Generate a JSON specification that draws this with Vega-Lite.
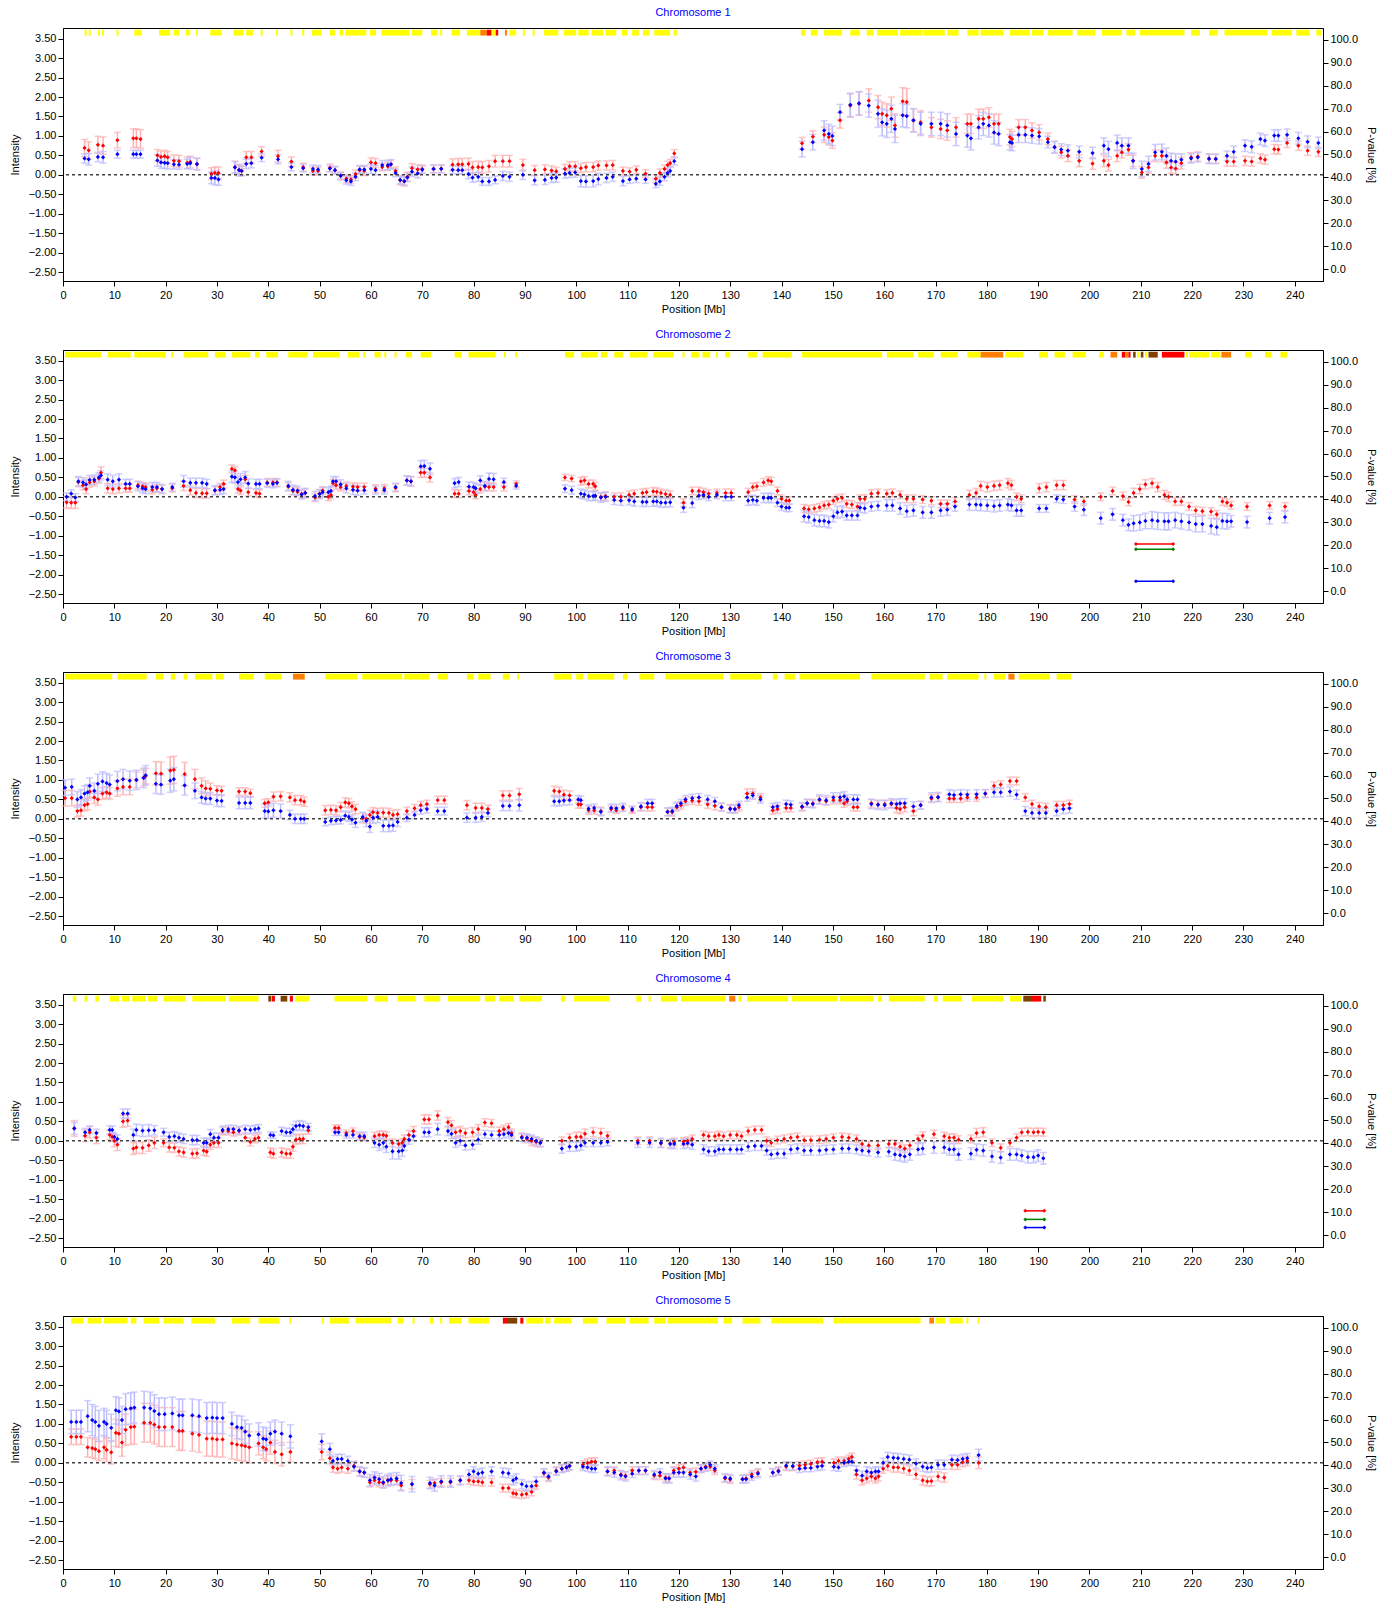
{
"$schema": "https://vega.github.io/schema/vega-lite/v6.json",
"padding": {"left": 8, "top": 6, "right": 0, "bottom": 0},
"spacing": 13,
"datasets": {
"pts": [
{"c":1,"x":4.2,"r":0.69,"b":0.42,"er":0.22,"eb":0.12},{"c":1,"x":5.0,"r":0.63,"b":0.40,"er":0.22,"eb":0.15},{"c":1,"x":6.8,"r":0.77,"b":0.46,"er":0.22,"eb":0.12},{"c":1,"x":7.8,"r":0.75,"b":0.45,"er":0.22,"eb":0.15},{"c":1,"x":10.6,"r":0.89,"b":0.53,"er":0.2,"eb":0.1},{"c":1,"x":13.7,"r":0.94,"b":0.53,"er":0.24,"eb":0.1},{"c":1,"x":14.3,"r":0.94,"b":0.53,"er":0.24,"eb":0.1},{"c":1,"x":15.1,"r":0.92,"b":0.53,"er":0.24,"eb":0.1},{"c":1,"x":18.4,"r":0.50,"b":0.37,"er":0.15,"eb":0.15},{"c":1,"x":19.1,"r":0.46,"b":0.32,"er":0.15,"eb":0.15},{"c":1,"x":19.8,"r":0.48,"b":0.31,"er":0.15,"eb":0.15},{"c":1,"x":20.4,"r":0.45,"b":0.30,"er":0.15,"eb":0.15},{"c":1,"x":21.6,"r":0.36,"b":0.27,"er":0.15,"eb":0.12},{"c":1,"x":22.6,"r":0.35,"b":0.26,"er":0.15,"eb":0.12},{"c":1,"x":24.2,"r":0.31,"b":0.28,"er":0.15,"eb":0.12},{"c":1,"x":24.8,"r":0.33,"b":0.30,"er":0.15,"eb":0.15},{"c":1,"x":26.1,"r":0.27,"b":0.28,"er":0.15,"eb":0.15},{"c":1,"x":28.9,"r":0.03,"b":-0.08,"er":0.15,"eb":0.15},{"c":1,"x":29.6,"r":0.05,"b":-0.08,"er":0.15,"eb":0.18},{"c":1,"x":30.3,"r":0.05,"b":-0.12,"er":0.15,"eb":0.15},{"c":1,"x":33.5,"r":0.20,"b":0.19,"er":0.15,"eb":0.15},{"c":1,"x":34.3,"r":0.13,"b":0.12,"er":0.12,"eb":0.15},{"c":1,"x":34.8,"r":0.10,"b":0.10,"er":0.12,"eb":0.12},{"c":1,"x":35.7,"r":0.45,"b":0.28,"er":0.15,"eb":0.12},{"c":1,"x":36.7,"r":0.45,"b":0.30,"er":0.15,"eb":0.12},{"c":1,"x":38.7,"r":0.60,"b":0.44,"er":0.12,"eb":0.1},{"c":1,"x":41.9,"r":0.48,"b":0.40,"er":0.15,"eb":0.12},{"c":1,"x":44.5,"r":0.34,"b":0.20,"er":0.12,"eb":0.1},{"c":1,"x":46.8,"r":0.20,"b":0.17,"er":0.1,"eb":0.1},{"c":1,"x":48.7,"r":0.10,"b":0.15,"er":0.1,"eb":0.1},{"c":1,"x":49.7,"r":0.10,"b":0.14,"er":0.1,"eb":0.1},{"c":1,"x":52.0,"r":0.18,"b":0.16,"er":0.1,"eb":0.08},{"c":1,"x":53.0,"r":0.12,"b":0.12,"er":0.1,"eb":0.08},{"c":1,"x":54.1,"r":-0.03,"b":-0.02,"er":0.1,"eb":0.08},{"c":1,"x":55.2,"r":-0.10,"b":-0.14,"er":0.1,"eb":0.1},{"c":1,"x":56.1,"r":-0.12,"b":-0.17,"er":0.1,"eb":0.1},{"c":1,"x":57.0,"r":0.02,"b":-0.05,"er":0.1,"eb":0.1},{"c":1,"x":57.8,"r":0.12,"b":0.14,"er":0.1,"eb":0.1},{"c":1,"x":58.7,"r":0.10,"b":0.14,"er":0.12,"eb":0.1},{"c":1,"x":60.0,"r":0.32,"b":0.15,"er":0.12,"eb":0.12},{"c":1,"x":60.9,"r":0.30,"b":0.12,"er":0.12,"eb":0.12},{"c":1,"x":62.2,"r":0.20,"b":0.25,"er":0.1,"eb":0.12},{"c":1,"x":63.3,"r":0.22,"b":0.25,"er":0.1,"eb":0.12},{"c":1,"x":63.9,"r":0.27,"b":0.27,"er":0.1,"eb":0.12},{"c":1,"x":64.8,"r":0.10,"b":0.05,"er":0.1,"eb":0.1},{"c":1,"x":65.7,"r":-0.14,"b":-0.13,"er":0.12,"eb":0.1},{"c":1,"x":66.5,"r":-0.17,"b":-0.16,"er":0.12,"eb":0.1},{"c":1,"x":67.1,"r":-0.05,"b":-0.07,"er":0.12,"eb":0.1},{"c":1,"x":68.0,"r":0.17,"b":0.08,"er":0.12,"eb":0.12},{"c":1,"x":69.1,"r":0.14,"b":0.04,"er":0.12,"eb":0.12},{"c":1,"x":70.0,"r":0.15,"b":0.13,"er":0.1,"eb":0.1},{"c":1,"x":72.2,"r":0.15,"b":0.15,"er":0.1,"eb":0.1},{"c":1,"x":73.7,"r":0.16,"b":0.15,"er":0.1,"eb":0.1},{"c":1,"x":75.9,"r":0.26,"b":0.13,"er":0.15,"eb":0.1},{"c":1,"x":77.0,"r":0.27,"b":0.12,"er":0.15,"eb":0.1},{"c":1,"x":77.8,"r":0.27,"b":0.12,"er":0.15,"eb":0.1},{"c":1,"x":79.0,"r":0.28,"b":0.02,"er":0.15,"eb":0.12},{"c":1,"x":79.8,"r":0.19,"b":-0.07,"er":0.15,"eb":0.12},{"c":1,"x":80.9,"r":0.20,"b":-0.05,"er":0.15,"eb":0.12},{"c":1,"x":81.7,"r":0.19,"b":-0.17,"er":0.15,"eb":0.1},{"c":1,"x":83.0,"r":0.22,"b":-0.17,"er":0.15,"eb":0.1},{"c":1,"x":84.2,"r":0.35,"b":-0.13,"er":0.15,"eb":0.1},{"c":1,"x":85.7,"r":0.35,"b":-0.03,"er":0.15,"eb":0.12},{"c":1,"x":87.0,"r":0.35,"b":-0.05,"er":0.15,"eb":0.12},{"c":1,"x":89.6,"r":0.25,"b":0.0,"er":0.15,"eb":0.12},{"c":1,"x":91.9,"r":0.12,"b":-0.14,"er":0.12,"eb":0.12},{"c":1,"x":93.9,"r":0.14,"b":-0.13,"er":0.12,"eb":0.12},{"c":1,"x":95.2,"r":0.11,"b":-0.08,"er":0.12,"eb":0.12},{"c":1,"x":96.1,"r":0.09,"b":-0.07,"er":0.1,"eb":0.12},{"c":1,"x":97.8,"r":0.15,"b":0.03,"er":0.12,"eb":0.12},{"c":1,"x":98.7,"r":0.22,"b":0.05,"er":0.12,"eb":0.12},{"c":1,"x":99.8,"r":0.22,"b":0.06,"er":0.12,"eb":0.12},{"c":1,"x":100.9,"r":0.17,"b":-0.16,"er":0.12,"eb":0.15},{"c":1,"x":101.9,"r":0.20,"b":-0.17,"er":0.12,"eb":0.15},{"c":1,"x":103.3,"r":0.20,"b":-0.16,"er":0.12,"eb":0.15},{"c":1,"x":104.3,"r":0.24,"b":-0.11,"er":0.12,"eb":0.15},{"c":1,"x":105.9,"r":0.24,"b":-0.08,"er":0.12,"eb":0.12},{"c":1,"x":107.1,"r":0.25,"b":-0.05,"er":0.12,"eb":0.12},{"c":1,"x":109.1,"r":0.10,"b":-0.16,"er":0.1,"eb":0.12},{"c":1,"x":110.4,"r":0.08,"b":-0.12,"er":0.1,"eb":0.1},{"c":1,"x":111.7,"r":0.13,"b":-0.10,"er":0.1,"eb":0.1},{"c":1,"x":113.5,"r":0.03,"b":-0.12,"er":0.1,"eb":0.1},{"c":1,"x":115.5,"r":-0.10,"b":-0.23,"er":0.1,"eb":0.1},{"c":1,"x":116.3,"r":0.05,"b":-0.17,"er":0.1,"eb":0.1},{"c":1,"x":117.2,"r":0.15,"b":-0.05,"er":0.1,"eb":0.1},{"c":1,"x":117.8,"r":0.25,"b":0.05,"er":0.1,"eb":0.1},{"c":1,"x":118.3,"r":0.30,"b":0.10,"er":0.1,"eb":0.1},{"c":1,"x":119.1,"r":0.55,"b":0.35,"er":0.1,"eb":0.1},
{"c":1,"x":144.0,"r":0.81,"b":0.66,"er":0.15,"eb":0.2},{"c":1,"x":146.1,"r":0.98,"b":0.84,"er":0.15,"eb":0.2},{"c":1,"x":148.3,"r":1.03,"b":1.14,"er":0.2,"eb":0.25},{"c":1,"x":149.2,"r":0.97,"b":1.05,"er":0.2,"eb":0.25},{"c":1,"x":149.9,"r":0.88,"b":1.00,"er":0.2,"eb":0.25},{"c":1,"x":151.4,"r":1.40,"b":1.61,"er":0.2,"eb":0.2},{"c":1,"x":153.4,"r":1.78,"b":1.80,"er":0.3,"eb":0.3},{"c":1,"x":155.1,"r":1.83,"b":1.84,"er":0.3,"eb":0.3},{"c":1,"x":157.0,"r":1.91,"b":1.78,"er":0.3,"eb":0.3},{"c":1,"x":158.8,"r":1.74,"b":1.57,"er":0.3,"eb":0.35},{"c":1,"x":159.6,"r":1.57,"b":1.35,"er":0.3,"eb":0.35},{"c":1,"x":160.5,"r":1.53,"b":1.31,"er":0.3,"eb":0.35},{"c":1,"x":161.4,"r":1.70,"b":1.44,"er":0.3,"eb":0.35},{"c":1,"x":162.1,"r":1.27,"b":1.18,"er":0.3,"eb":0.35},{"c":1,"x":163.6,"r":1.89,"b":1.53,"er":0.35,"eb":0.3},{"c":1,"x":164.4,"r":1.87,"b":1.51,"er":0.35,"eb":0.3},{"c":1,"x":165.7,"r":1.40,"b":1.40,"er":0.3,"eb":0.3},{"c":1,"x":167.1,"r":1.35,"b":1.31,"er":0.3,"eb":0.3},{"c":1,"x":169.2,"r":1.22,"b":1.31,"er":0.25,"eb":0.3},{"c":1,"x":171.0,"r":1.18,"b":1.31,"er":0.25,"eb":0.3},{"c":1,"x":172.3,"r":1.14,"b":1.27,"er":0.25,"eb":0.3},{"c":1,"x":174.0,"r":1.22,"b":1.05,"er":0.25,"eb":0.3},{"c":1,"x":176.2,"r":1.31,"b":1.01,"er":0.25,"eb":0.3},{"c":1,"x":176.9,"r":1.31,"b":0.94,"er":0.25,"eb":0.3},{"c":1,"x":178.4,"r":1.44,"b":1.22,"er":0.25,"eb":0.3},{"c":1,"x":179.3,"r":1.44,"b":1.31,"er":0.25,"eb":0.3},{"c":1,"x":180.4,"r":1.48,"b":1.27,"er":0.25,"eb":0.3},{"c":1,"x":181.4,"r":1.31,"b":1.09,"er":0.25,"eb":0.3},{"c":1,"x":182.3,"r":1.31,"b":1.05,"er":0.25,"eb":0.3},{"c":1,"x":184.5,"r":0.97,"b":0.84,"er":0.2,"eb":0.2},{"c":1,"x":184.9,"r":0.92,"b":0.82,"er":0.2,"eb":0.2},{"c":1,"x":186.2,"r":1.22,"b":1.03,"er":0.2,"eb":0.2},{"c":1,"x":187.5,"r":1.22,"b":1.03,"er":0.2,"eb":0.2},{"c":1,"x":188.8,"r":1.14,"b":1.01,"er":0.2,"eb":0.2},{"c":1,"x":190.2,"r":1.09,"b":0.99,"er":0.2,"eb":0.2},{"c":1,"x":191.9,"r":0.92,"b":0.84,"er":0.15,"eb":0.15},{"c":1,"x":193.2,"r":0.71,"b":0.71,"er":0.15,"eb":0.15},{"c":1,"x":194.5,"r":0.58,"b":0.65,"er":0.15,"eb":0.15},{"c":1,"x":195.8,"r":0.49,"b":0.62,"er":0.15,"eb":0.15},{"c":1,"x":198.0,"r":0.36,"b":0.59,"er":0.15,"eb":0.15},{"c":1,"x":200.6,"r":0.29,"b":0.56,"er":0.15,"eb":0.15},{"c":1,"x":202.8,"r":0.36,"b":0.75,"er":0.15,"eb":0.2},{"c":1,"x":203.7,"r":0.25,"b":0.66,"er":0.15,"eb":0.2},{"c":1,"x":205.4,"r":0.49,"b":0.82,"er":0.15,"eb":0.2},{"c":1,"x":206.3,"r":0.58,"b":0.75,"er":0.15,"eb":0.2},{"c":1,"x":207.6,"r":0.65,"b":0.75,"er":0.15,"eb":0.2},{"c":1,"x":208.5,"r":0.36,"b":0.36,"er":0.15,"eb":0.2},{"c":1,"x":210.2,"r":0.06,"b":0.15,"er":0.15,"eb":0.2},{"c":1,"x":211.5,"r":0.19,"b":0.28,"er":0.15,"eb":0.2},{"c":1,"x":212.8,"r":0.49,"b":0.58,"er":0.15,"eb":0.2},{"c":1,"x":214.1,"r":0.49,"b":0.59,"er":0.15,"eb":0.2},{"c":1,"x":215.0,"r":0.32,"b":0.49,"er":0.15,"eb":0.2},{"c":1,"x":215.9,"r":0.19,"b":0.36,"er":0.15,"eb":0.2},{"c":1,"x":216.8,"r":0.16,"b":0.34,"er":0.15,"eb":0.2},{"c":1,"x":217.9,"r":0.30,"b":0.39,"er":0.15,"eb":0.15},{"c":1,"x":219.8,"r":0.45,"b":0.42,"er":0.12,"eb":0.12},{"c":1,"x":221.1,"r":0.47,"b":0.45,"er":0.12,"eb":0.12},{"c":1,"x":223.3,"r":0.42,"b":0.41,"er":0.12,"eb":0.12},{"c":1,"x":224.6,"r":0.41,"b":0.41,"er":0.12,"eb":0.12},{"c":1,"x":226.8,"r":0.34,"b":0.49,"er":0.12,"eb":0.12},{"c":1,"x":228.1,"r":0.34,"b":0.59,"er":0.12,"eb":0.15},{"c":1,"x":230.3,"r":0.36,"b":0.75,"er":0.12,"eb":0.15},{"c":1,"x":231.6,"r":0.34,"b":0.72,"er":0.12,"eb":0.15},{"c":1,"x":233.3,"r":0.42,"b":0.92,"er":0.12,"eb":0.15},{"c":1,"x":234.2,"r":0.39,"b":0.88,"er":0.12,"eb":0.15},{"c":1,"x":236.0,"r":0.66,"b":1.01,"er":0.12,"eb":0.15},{"c":1,"x":236.8,"r":0.65,"b":1.01,"er":0.12,"eb":0.15},{"c":1,"x":238.5,"r":0.82,"b":1.03,"er":0.12,"eb":0.15},{"c":1,"x":240.7,"r":0.75,"b":0.94,"er":0.12,"eb":0.15},{"c":1,"x":242.5,"r":0.62,"b":0.85,"er":0.12,"eb":0.15},{"c":1,"x":244.6,"r":0.59,"b":0.82,"er":0.12,"eb":0.15},
{"c":2,"x":0.7,"r":-0.14,"b":0.0,"er":0.15,"eb":0.1},{"c":2,"x":1.6,"r":-0.15,"b":0.08,"er":0.15,"eb":0.1},{"c":2,"x":2.4,"r":-0.15,"b":-0.02,"er":0.15,"eb":0.1},{"c":2,"x":3.0,"r":0.38,"b":0.40,"er":0.12,"eb":0.12},{"c":2,"x":3.9,"r":0.30,"b":0.37,"er":0.12,"eb":0.12},{"c":2,"x":4.5,"r":0.20,"b":0.32,"er":0.12,"eb":0.12},{"c":2,"x":5.2,"r":0.37,"b":0.43,"er":0.12,"eb":0.12},{"c":2,"x":6.1,"r":0.40,"b":0.44,"er":0.12,"eb":0.12},{"c":2,"x":7.0,"r":0.47,"b":0.50,"er":0.12,"eb":0.12},{"c":2,"x":7.4,"r":0.62,"b":0.55,"er":0.15,"eb":0.12},{"c":2,"x":8.7,"r":0.22,"b":0.44,"er":0.12,"eb":0.15},{"c":2,"x":9.7,"r":0.20,"b":0.40,"er":0.12,"eb":0.15},{"c":2,"x":10.9,"r":0.22,"b":0.44,"er":0.12,"eb":0.15},{"c":2,"x":12.2,"r":0.22,"b":0.33,"er":0.1,"eb":0.12},{"c":2,"x":13.0,"r":0.22,"b":0.33,"er":0.1,"eb":0.12},{"c":2,"x":14.6,"r":0.30,"b":0.27,"er":0.1,"eb":0.12},{"c":2,"x":15.5,"r":0.27,"b":0.22,"er":0.1,"eb":0.12},{"c":2,"x":16.1,"r":0.25,"b":0.20,"er":0.1,"eb":0.12},{"c":2,"x":17.4,"r":0.18,"b":0.25,"er":0.1,"eb":0.12},{"c":2,"x":18.3,"r":0.22,"b":0.25,"er":0.1,"eb":0.12},{"c":2,"x":19.3,"r":0.20,"b":0.20,"er":0.1,"eb":0.12},{"c":2,"x":21.3,"r":0.22,"b":0.25,"er":0.1,"eb":0.1},{"c":2,"x":23.5,"r":0.28,"b":0.40,"er":0.12,"eb":0.15},{"c":2,"x":24.8,"r":0.17,"b":0.36,"er":0.12,"eb":0.12},{"c":2,"x":25.9,"r":0.10,"b":0.36,"er":0.12,"eb":0.12},{"c":2,"x":27.1,"r":0.09,"b":0.36,"er":0.12,"eb":0.12},{"c":2,"x":28.0,"r":0.09,"b":0.33,"er":0.12,"eb":0.12},{"c":2,"x":29.6,"r":0.16,"b":0.17,"er":0.1,"eb":0.12},{"c":2,"x":30.6,"r":0.25,"b":0.18,"er":0.1,"eb":0.12},{"c":2,"x":31.3,"r":0.33,"b":0.20,"er":0.1,"eb":0.12},{"c":2,"x":32.9,"r":0.72,"b":0.52,"er":0.1,"eb":0.15},{"c":2,"x":33.5,"r":0.68,"b":0.50,"er":0.1,"eb":0.15},{"c":2,"x":34.1,"r":0.20,"b":0.38,"er":0.1,"eb":0.15},{"c":2,"x":34.6,"r":0.16,"b":0.45,"er":0.1,"eb":0.15},{"c":2,"x":35.5,"r":0.45,"b":0.50,"er":0.1,"eb":0.15},{"c":2,"x":36.1,"r":0.12,"b":0.34,"er":0.1,"eb":0.12},{"c":2,"x":37.6,"r":0.10,"b":0.33,"er":0.1,"eb":0.12},{"c":2,"x":38.3,"r":0.08,"b":0.33,"er":0.1,"eb":0.12},{"c":2,"x":39.8,"r":0.37,"b":0.35,"er":0.1,"eb":0.1},{"c":2,"x":40.9,"r":0.37,"b":0.33,"er":0.1,"eb":0.1},{"c":2,"x":41.7,"r":0.37,"b":0.36,"er":0.1,"eb":0.1},{"c":2,"x":43.9,"r":0.26,"b":0.28,"er":0.1,"eb":0.12},{"c":2,"x":44.8,"r":0.15,"b":0.18,"er":0.1,"eb":0.12},{"c":2,"x":45.7,"r":0.13,"b":0.16,"er":0.1,"eb":0.12},{"c":2,"x":46.5,"r":0.07,"b":0.06,"er":0.1,"eb":0.12},{"c":2,"x":47.2,"r":0.10,"b":0.10,"er":0.1,"eb":0.12},{"c":2,"x":49.1,"r":-0.02,"b":0.02,"er":0.1,"eb":0.12},{"c":2,"x":50.0,"r":0.08,"b":0.07,"er":0.1,"eb":0.12},{"c":2,"x":50.6,"r":0.16,"b":0.12,"er":0.1,"eb":0.12},{"c":2,"x":51.7,"r":0.0,"b":0.12,"er":0.1,"eb":0.12},{"c":2,"x":52.2,"r":0.05,"b":0.15,"er":0.1,"eb":0.12},{"c":2,"x":52.6,"r":0.35,"b":0.40,"er":0.1,"eb":0.12},{"c":2,"x":53.2,"r":0.30,"b":0.40,"er":0.1,"eb":0.12},{"c":2,"x":54.1,"r":0.25,"b":0.32,"er":0.1,"eb":0.12},{"c":2,"x":55.2,"r":0.28,"b":0.22,"er":0.1,"eb":0.12},{"c":2,"x":56.5,"r":0.26,"b":0.18,"er":0.1,"eb":0.12},{"c":2,"x":57.4,"r":0.25,"b":0.16,"er":0.1,"eb":0.12},{"c":2,"x":58.7,"r":0.25,"b":0.17,"er":0.1,"eb":0.1},{"c":2,"x":60.9,"r":0.21,"b":0.17,"er":0.1,"eb":0.1},{"c":2,"x":62.6,"r":0.22,"b":0.17,"er":0.1,"eb":0.1},{"c":2,"x":64.8,"r":0.23,"b":0.25,"er":0.1,"eb":0.1},{"c":2,"x":67.0,"r":0.42,"b":0.42,"er":0.12,"eb":0.12},{"c":2,"x":67.8,"r":0.40,"b":0.40,"er":0.12,"eb":0.12},{"c":2,"x":69.7,"r":0.62,"b":0.78,"er":0.12,"eb":0.15},{"c":2,"x":70.4,"r":0.62,"b":0.79,"er":0.12,"eb":0.15},{"c":2,"x":71.5,"r":0.50,"b":0.72,"er":0.12,"eb":0.15},{"c":2,"x":76.3,"r":0.08,"b":0.35,"er":0.1,"eb":0.12},{"c":2,"x":77.1,"r":0.08,"b":0.38,"er":0.1,"eb":0.12},{"c":2,"x":79.1,"r":0.15,"b":0.26,"er":0.1,"eb":0.12},{"c":2,"x":80.0,"r":0.12,"b":0.25,"er":0.1,"eb":0.12},{"c":2,"x":80.4,"r":0.05,"b":0.22,"er":0.1,"eb":0.12},{"c":2,"x":81.3,"r":0.20,"b":0.42,"er":0.1,"eb":0.12},{"c":2,"x":82.2,"r":0.26,"b":0.28,"er":0.1,"eb":0.12},{"c":2,"x":83.0,"r":0.25,"b":0.46,"er":0.1,"eb":0.15},{"c":2,"x":83.9,"r":0.25,"b":0.45,"er":0.1,"eb":0.15},{"c":2,"x":85.9,"r":0.25,"b":0.38,"er":0.1,"eb":0.1},{"c":2,"x":88.3,"r":0.33,"b":0.28,"er":0.08,"eb":0.08},{"c":2,"x":97.8,"r":0.50,"b":0.21,"er":0.08,"eb":0.1},{"c":2,"x":99.1,"r":0.47,"b":0.17,"er":0.08,"eb":0.1},{"c":2,"x":100.9,"r":0.40,"b":0.08,"er":0.1,"eb":0.12},{"c":2,"x":101.6,"r":0.42,"b":0.06,"er":0.1,"eb":0.12},{"c":2,"x":102.4,"r":0.33,"b":0.02,"er":0.1,"eb":0.12},{"c":2,"x":103.3,"r":0.33,"b":0.02,"er":0.1,"eb":0.12},{"c":2,"x":103.7,"r":0.27,"b":0.03,"er":0.1,"eb":0.12},{"c":2,"x":104.8,"r":0.0,"b":-0.02,"er":0.1,"eb":0.12},{"c":2,"x":105.7,"r":0.02,"b":0.0,"er":0.1,"eb":0.12},{"c":2,"x":107.4,"r":0.0,"b":-0.08,"er":0.1,"eb":0.12},{"c":2,"x":108.7,"r":0.0,"b":-0.10,"er":0.1,"eb":0.12},{"c":2,"x":110.3,"r":0.05,"b":-0.09,"er":0.1,"eb":0.12},{"c":2,"x":111.3,"r":0.08,"b":-0.12,"er":0.1,"eb":0.12},{"c":2,"x":112.9,"r":0.10,"b":-0.13,"er":0.1,"eb":0.12},{"c":2,"x":113.7,"r":0.12,"b":-0.13,"er":0.1,"eb":0.12},{"c":2,"x":115.0,"r":0.14,"b":-0.12,"er":0.1,"eb":0.12},{"c":2,"x":115.7,"r":0.13,"b":-0.12,"er":0.1,"eb":0.12},{"c":2,"x":116.5,"r":0.10,"b":-0.15,"er":0.1,"eb":0.12},{"c":2,"x":117.4,"r":0.07,"b":-0.15,"er":0.1,"eb":0.12},{"c":2,"x":118.3,"r":0.05,"b":-0.14,"er":0.1,"eb":0.12},{"c":2,"x":120.9,"r":-0.15,"b":-0.28,"er":0.1,"eb":0.12},{"c":2,"x":122.6,"r":0.15,"b":-0.16,"er":0.1,"eb":0.12},{"c":2,"x":123.9,"r":0.15,"b":0.03,"er":0.1,"eb":0.1},{"c":2,"x":124.8,"r":0.12,"b":0.05,"er":0.1,"eb":0.1},{"c":2,"x":125.8,"r":0.08,"b":0.0,"er":0.1,"eb":0.1},{"c":2,"x":127.4,"r":0.10,"b":0.05,"er":0.1,"eb":0.1},{"c":2,"x":129.1,"r":0.10,"b":0.0,"er":0.1,"eb":0.1},{"c":2,"x":130.2,"r":0.10,"b":0.0,"er":0.1,"eb":0.1},{"c":2,"x":133.5,"r":0.12,"b":-0.10,"er":0.1,"eb":0.12},{"c":2,"x":134.4,"r":0.25,"b":-0.08,"er":0.1,"eb":0.12},{"c":2,"x":135.2,"r":0.27,"b":-0.10,"er":0.1,"eb":0.12},{"c":2,"x":136.5,"r":0.37,"b":-0.03,"er":0.1,"eb":0.12},{"c":2,"x":137.4,"r":0.42,"b":-0.03,"er":0.1,"eb":0.12},{"c":2,"x":138.0,"r":0.40,"b":-0.03,"er":0.1,"eb":0.12},{"c":2,"x":139.2,"r":0.15,"b":-0.15,"er":0.1,"eb":0.1},{"c":2,"x":140.0,"r":-0.05,"b":-0.25,"er":0.1,"eb":0.1},{"c":2,"x":140.9,"r":-0.10,"b":-0.28,"er":0.1,"eb":0.1},{"c":2,"x":141.5,"r":-0.10,"b":-0.28,"er":0.1,"eb":0.1},{"c":2,"x":144.4,"r":-0.30,"b":-0.50,"er":0.1,"eb":0.15},{"c":2,"x":145.3,"r":-0.32,"b":-0.52,"er":0.1,"eb":0.15},{"c":2,"x":146.4,"r":-0.30,"b":-0.60,"er":0.1,"eb":0.15},{"c":2,"x":147.4,"r":-0.27,"b":-0.62,"er":0.1,"eb":0.15},{"c":2,"x":148.3,"r":-0.22,"b":-0.62,"er":0.1,"eb":0.15},{"c":2,"x":149.2,"r":-0.20,"b":-0.65,"er":0.1,"eb":0.15},{"c":2,"x":150.1,"r":-0.10,"b":-0.50,"er":0.1,"eb":0.15},{"c":2,"x":150.9,"r":-0.05,"b":-0.40,"er":0.1,"eb":0.15},{"c":2,"x":151.8,"r":-0.03,"b":-0.38,"er":0.1,"eb":0.15},{"c":2,"x":152.7,"r":-0.18,"b":-0.48,"er":0.1,"eb":0.12},{"c":2,"x":153.7,"r":-0.20,"b":-0.48,"er":0.1,"eb":0.12},{"c":2,"x":154.8,"r":-0.25,"b":-0.48,"er":0.1,"eb":0.12},{"c":2,"x":155.3,"r":-0.05,"b":-0.28,"er":0.1,"eb":0.12},{"c":2,"x":156.2,"r":-0.05,"b":-0.30,"er":0.1,"eb":0.12},{"c":2,"x":157.5,"r":0.08,"b":-0.25,"er":0.1,"eb":0.12},{"c":2,"x":158.8,"r":0.10,"b":-0.23,"er":0.1,"eb":0.12},{"c":2,"x":160.5,"r":0.08,"b":-0.22,"er":0.1,"eb":0.15},{"c":2,"x":161.6,"r":0.10,"b":-0.22,"er":0.1,"eb":0.15},{"c":2,"x":163.1,"r":0.05,"b":-0.30,"er":0.1,"eb":0.15},{"c":2,"x":164.4,"r":-0.05,"b":-0.37,"er":0.1,"eb":0.15},{"c":2,"x":165.7,"r":-0.05,"b":-0.35,"er":0.1,"eb":0.15},{"c":2,"x":167.5,"r":-0.07,"b":-0.40,"er":0.1,"eb":0.15},{"c":2,"x":169.2,"r":-0.10,"b":-0.40,"er":0.1,"eb":0.15},{"c":2,"x":171.0,"r":-0.18,"b":-0.35,"er":0.1,"eb":0.15},{"c":2,"x":172.3,"r":-0.18,"b":-0.33,"er":0.1,"eb":0.15},{"c":2,"x":173.8,"r":-0.12,"b":-0.25,"er":0.1,"eb":0.12},{"c":2,"x":176.6,"r":0.05,"b":-0.20,"er":0.12,"eb":0.15},{"c":2,"x":177.9,"r":0.10,"b":-0.20,"er":0.12,"eb":0.15},{"c":2,"x":178.8,"r":0.28,"b":-0.21,"er":0.12,"eb":0.15},{"c":2,"x":180.1,"r":0.25,"b":-0.22,"er":0.12,"eb":0.15},{"c":2,"x":181.4,"r":0.28,"b":-0.24,"er":0.12,"eb":0.15},{"c":2,"x":182.5,"r":0.30,"b":-0.22,"er":0.12,"eb":0.15},{"c":2,"x":184.1,"r":0.35,"b":-0.20,"er":0.12,"eb":0.15},{"c":2,"x":184.8,"r":0.30,"b":-0.22,"er":0.12,"eb":0.15},{"c":2,"x":185.8,"r":0.0,"b":-0.35,"er":0.1,"eb":0.15},{"c":2,"x":186.7,"r":-0.05,"b":-0.35,"er":0.1,"eb":0.15},{"c":2,"x":190.2,"r":0.22,"b":-0.30,"er":0.12,"eb":0.1},{"c":2,"x":191.6,"r":0.25,"b":-0.30,"er":0.12,"eb":0.1},{"c":2,"x":193.6,"r":0.30,"b":-0.05,"er":0.12,"eb":0.1},{"c":2,"x":194.9,"r":0.30,"b":-0.07,"er":0.12,"eb":0.1},{"c":2,"x":197.1,"r":-0.07,"b":-0.25,"er":0.1,"eb":0.12},{"c":2,"x":198.9,"r":-0.12,"b":-0.33,"er":0.1,"eb":0.15},{"c":2,"x":202.2,"r":0.0,"b":-0.55,"er":0.1,"eb":0.15},{"c":2,"x":204.5,"r":0.15,"b":-0.45,"er":0.1,"eb":0.15},{"c":2,"x":206.5,"r":0.02,"b":-0.60,"er":0.1,"eb":0.15},{"c":2,"x":207.6,"r":-0.13,"b":-0.72,"er":0.1,"eb":0.15},{"c":2,"x":208.6,"r":0.10,"b":-0.68,"er":0.12,"eb":0.2},{"c":2,"x":209.8,"r":0.20,"b":-0.66,"er":0.12,"eb":0.2},{"c":2,"x":210.9,"r":0.32,"b":-0.62,"er":0.12,"eb":0.2},{"c":2,"x":212.2,"r":0.35,"b":-0.60,"er":0.12,"eb":0.22},{"c":2,"x":213.3,"r":0.25,"b":-0.62,"er":0.12,"eb":0.22},{"c":2,"x":214.6,"r":0.05,"b":-0.63,"er":0.12,"eb":0.22},{"c":2,"x":215.4,"r":0.0,"b":-0.63,"er":0.12,"eb":0.22},{"c":2,"x":216.7,"r":-0.12,"b":-0.60,"er":0.1,"eb":0.2},{"c":2,"x":217.9,"r":-0.12,"b":-0.63,"er":0.1,"eb":0.2},{"c":2,"x":219.4,"r":-0.25,"b":-0.66,"er":0.1,"eb":0.2},{"c":2,"x":220.7,"r":-0.35,"b":-0.70,"er":0.1,"eb":0.2},{"c":2,"x":222.0,"r":-0.37,"b":-0.70,"er":0.1,"eb":0.2},{"c":2,"x":223.7,"r":-0.38,"b":-0.75,"er":0.1,"eb":0.2},{"c":2,"x":224.8,"r":-0.45,"b":-0.78,"er":0.1,"eb":0.2},{"c":2,"x":225.9,"r":-0.12,"b":-0.62,"er":0.1,"eb":0.2},{"c":2,"x":226.8,"r":-0.15,"b":-0.63,"er":0.1,"eb":0.2},{"c":2,"x":227.6,"r":-0.22,"b":-0.63,"er":0.1,"eb":0.15},{"c":2,"x":230.7,"r":-0.25,"b":-0.65,"er":0.1,"eb":0.15},{"c":2,"x":235.1,"r":-0.22,"b":-0.55,"er":0.1,"eb":0.15},{"c":2,"x":238.1,"r":-0.25,"b":-0.52,"er":0.1,"eb":0.15},
{"c":3,"x":0.4,"r":0.53,"b":0.80,"er":0.2,"eb":0.2},{"c":3,"x":1.7,"r":0.53,"b":0.82,"er":0.2,"eb":0.2},{"c":3,"x":2.8,"r":0.20,"b":0.50,"er":0.15,"eb":0.2},{"c":3,"x":3.5,"r":0.22,"b":0.55,"er":0.15,"eb":0.2},{"c":3,"x":4.2,"r":0.35,"b":0.65,"er":0.15,"eb":0.2},{"c":3,"x":4.8,"r":0.38,"b":0.68,"er":0.15,"eb":0.2},{"c":3,"x":5.2,"r":0.70,"b":0.85,"er":0.15,"eb":0.2},{"c":3,"x":6.1,"r":0.55,"b":0.72,"er":0.15,"eb":0.2},{"c":3,"x":6.8,"r":0.50,"b":0.90,"er":0.15,"eb":0.25},{"c":3,"x":7.7,"r":0.65,"b":0.96,"er":0.15,"eb":0.25},{"c":3,"x":8.5,"r":0.68,"b":0.92,"er":0.15,"eb":0.25},{"c":3,"x":9.1,"r":0.65,"b":0.88,"er":0.15,"eb":0.25},{"c":3,"x":10.6,"r":0.78,"b":0.97,"er":0.2,"eb":0.25},{"c":3,"x":11.7,"r":0.82,"b":1.02,"er":0.2,"eb":0.25},{"c":3,"x":13.0,"r":0.82,"b":0.98,"er":0.2,"eb":0.25},{"c":3,"x":14.3,"r":1.00,"b":1.00,"er":0.2,"eb":0.25},{"c":3,"x":15.7,"r":1.05,"b":1.05,"er":0.2,"eb":0.25},{"c":3,"x":16.1,"r":1.10,"b":1.12,"er":0.2,"eb":0.25},{"c":3,"x":18.1,"r":1.17,"b":0.90,"er":0.3,"eb":0.25},{"c":3,"x":19.1,"r":1.16,"b":0.88,"er":0.3,"eb":0.25},{"c":3,"x":20.9,"r":1.24,"b":0.98,"er":0.35,"eb":0.3},{"c":3,"x":21.6,"r":1.26,"b":1.02,"er":0.35,"eb":0.3},{"c":3,"x":23.7,"r":1.15,"b":0.86,"er":0.3,"eb":0.25},{"c":3,"x":25.7,"r":1.02,"b":0.72,"er":0.25,"eb":0.2},{"c":3,"x":27.0,"r":0.85,"b":0.55,"er":0.2,"eb":0.15},{"c":3,"x":27.8,"r":0.78,"b":0.52,"er":0.2,"eb":0.15},{"c":3,"x":28.7,"r":0.77,"b":0.52,"er":0.15,"eb":0.15},{"c":3,"x":30.0,"r":0.73,"b":0.47,"er":0.12,"eb":0.15},{"c":3,"x":30.9,"r":0.72,"b":0.46,"er":0.12,"eb":0.15},{"c":3,"x":34.3,"r":0.70,"b":0.41,"er":0.1,"eb":0.15},{"c":3,"x":35.5,"r":0.70,"b":0.41,"er":0.1,"eb":0.15},{"c":3,"x":36.5,"r":0.66,"b":0.41,"er":0.1,"eb":0.15},{"c":3,"x":39.3,"r":0.40,"b":0.20,"er":0.1,"eb":0.18},{"c":3,"x":40.0,"r":0.42,"b":0.19,"er":0.1,"eb":0.18},{"c":3,"x":41.0,"r":0.57,"b":0.22,"er":0.12,"eb":0.18},{"c":3,"x":42.4,"r":0.58,"b":0.20,"er":0.12,"eb":0.18},{"c":3,"x":44.2,"r":0.55,"b":0.10,"er":0.12,"eb":0.12},{"c":3,"x":45.2,"r":0.48,"b":0.0,"er":0.12,"eb":0.12},{"c":3,"x":46.3,"r":0.48,"b":0.0,"er":0.12,"eb":0.12},{"c":3,"x":47.0,"r":0.44,"b":0.0,"er":0.12,"eb":0.12},{"c":3,"x":51.1,"r":0.22,"b":-0.08,"er":0.12,"eb":0.1},{"c":3,"x":52.2,"r":0.23,"b":-0.05,"er":0.12,"eb":0.1},{"c":3,"x":53.2,"r":0.22,"b":-0.04,"er":0.12,"eb":0.1},{"c":3,"x":54.1,"r":0.30,"b":-0.03,"er":0.12,"eb":0.1},{"c":3,"x":55.0,"r":0.42,"b":0.08,"er":0.12,"eb":0.12},{"c":3,"x":55.7,"r":0.40,"b":0.05,"er":0.12,"eb":0.12},{"c":3,"x":56.3,"r":0.32,"b":-0.02,"er":0.12,"eb":0.12},{"c":3,"x":57.0,"r":0.25,"b":-0.10,"er":0.12,"eb":0.12},{"c":3,"x":58.4,"r":0.02,"b":0.05,"er":0.12,"eb":0.12},{"c":3,"x":59.1,"r":0.0,"b":-0.05,"er":0.12,"eb":0.15},{"c":3,"x":59.8,"r":0.10,"b":-0.20,"er":0.12,"eb":0.15},{"c":3,"x":60.4,"r":0.17,"b":0.03,"er":0.12,"eb":0.15},{"c":3,"x":61.3,"r":0.15,"b":0.05,"er":0.12,"eb":0.15},{"c":3,"x":62.4,"r":0.16,"b":-0.18,"er":0.12,"eb":0.15},{"c":3,"x":63.5,"r":0.15,"b":-0.18,"er":0.12,"eb":0.15},{"c":3,"x":64.3,"r":0.10,"b":-0.17,"er":0.12,"eb":0.15},{"c":3,"x":65.2,"r":0.12,"b":-0.08,"er":0.12,"eb":0.12},{"c":3,"x":67.0,"r":0.20,"b":0.03,"er":0.1,"eb":0.1},{"c":3,"x":68.5,"r":0.27,"b":0.10,"er":0.1,"eb":0.1},{"c":3,"x":69.7,"r":0.35,"b":0.22,"er":0.1,"eb":0.1},{"c":3,"x":70.9,"r":0.38,"b":0.25,"er":0.1,"eb":0.1},{"c":3,"x":73.0,"r":0.48,"b":0.20,"er":0.1,"eb":0.1},{"c":3,"x":74.3,"r":0.48,"b":0.20,"er":0.1,"eb":0.1},{"c":3,"x":78.7,"r":0.35,"b":0.03,"er":0.12,"eb":0.12},{"c":3,"x":80.4,"r":0.28,"b":0.03,"er":0.12,"eb":0.12},{"c":3,"x":81.6,"r":0.28,"b":0.05,"er":0.12,"eb":0.12},{"c":3,"x":82.8,"r":0.25,"b":0.15,"er":0.1,"eb":0.1},{"c":3,"x":85.7,"r":0.60,"b":0.33,"er":0.12,"eb":0.12},{"c":3,"x":87.0,"r":0.60,"b":0.33,"er":0.12,"eb":0.12},{"c":3,"x":88.9,"r":0.63,"b":0.35,"er":0.15,"eb":0.15},{"c":3,"x":95.7,"r":0.72,"b":0.45,"er":0.12,"eb":0.12},{"c":3,"x":96.7,"r":0.70,"b":0.45,"er":0.12,"eb":0.12},{"c":3,"x":97.6,"r":0.62,"b":0.47,"er":0.12,"eb":0.12},{"c":3,"x":98.7,"r":0.60,"b":0.48,"er":0.12,"eb":0.12},{"c":3,"x":100.4,"r":0.37,"b":0.50,"er":0.1,"eb":0.1},{"c":3,"x":100.9,"r":0.37,"b":0.48,"er":0.1,"eb":0.1},{"c":3,"x":102.4,"r":0.22,"b":0.26,"er":0.1,"eb":0.1},{"c":3,"x":103.5,"r":0.22,"b":0.28,"er":0.1,"eb":0.1},{"c":3,"x":104.8,"r":0.20,"b":0.18,"er":0.1,"eb":0.1},{"c":3,"x":106.8,"r":0.25,"b":0.28,"er":0.08,"eb":0.1},{"c":3,"x":107.8,"r":0.22,"b":0.27,"er":0.08,"eb":0.1},{"c":3,"x":109.1,"r":0.27,"b":0.30,"er":0.08,"eb":0.1},{"c":3,"x":110.9,"r":0.22,"b":0.25,"er":0.08,"eb":0.08},{"c":3,"x":112.6,"r":0.30,"b":0.32,"er":0.1,"eb":0.1},{"c":3,"x":113.9,"r":0.30,"b":0.40,"er":0.1,"eb":0.1},{"c":3,"x":114.8,"r":0.30,"b":0.40,"er":0.1,"eb":0.1},{"c":3,"x":117.8,"r":0.18,"b":0.18,"er":0.1,"eb":0.1},{"c":3,"x":118.7,"r":0.17,"b":0.20,"er":0.1,"eb":0.1},{"c":3,"x":119.6,"r":0.30,"b":0.33,"er":0.1,"eb":0.1},{"c":3,"x":120.4,"r":0.35,"b":0.40,"er":0.1,"eb":0.1},{"c":3,"x":121.3,"r":0.45,"b":0.50,"er":0.1,"eb":0.1},{"c":3,"x":122.6,"r":0.47,"b":0.53,"er":0.1,"eb":0.1},{"c":3,"x":123.9,"r":0.45,"b":0.55,"er":0.1,"eb":0.1},{"c":3,"x":125.6,"r":0.37,"b":0.50,"er":0.1,"eb":0.1},{"c":3,"x":127.0,"r":0.33,"b":0.45,"er":0.1,"eb":0.1},{"c":3,"x":128.3,"r":0.30,"b":0.30,"er":0.1,"eb":0.1},{"c":3,"x":130.0,"r":0.27,"b":0.25,"er":0.1,"eb":0.1},{"c":3,"x":130.9,"r":0.25,"b":0.25,"er":0.1,"eb":0.1},{"c":3,"x":131.7,"r":0.30,"b":0.35,"er":0.1,"eb":0.1},{"c":3,"x":133.3,"r":0.65,"b":0.55,"er":0.12,"eb":0.1},{"c":3,"x":134.4,"r":0.65,"b":0.60,"er":0.12,"eb":0.1},{"c":3,"x":135.9,"r":0.55,"b":0.50,"er":0.1,"eb":0.1},{"c":3,"x":138.3,"r":0.22,"b":0.30,"er":0.1,"eb":0.1},{"c":3,"x":139.2,"r":0.25,"b":0.32,"er":0.1,"eb":0.1},{"c":3,"x":140.9,"r":0.28,"b":0.38,"er":0.1,"eb":0.1},{"c":3,"x":141.8,"r":0.28,"b":0.36,"er":0.1,"eb":0.1},{"c":3,"x":144.0,"r":0.30,"b":0.32,"er":0.1,"eb":0.1},{"c":3,"x":145.0,"r":0.40,"b":0.40,"er":0.1,"eb":0.1},{"c":3,"x":146.1,"r":0.40,"b":0.38,"er":0.1,"eb":0.1},{"c":3,"x":147.4,"r":0.48,"b":0.50,"er":0.1,"eb":0.12},{"c":3,"x":148.7,"r":0.45,"b":0.48,"er":0.1,"eb":0.12},{"c":3,"x":150.1,"r":0.48,"b":0.55,"er":0.1,"eb":0.12},{"c":3,"x":151.4,"r":0.48,"b":0.55,"er":0.1,"eb":0.12},{"c":3,"x":152.2,"r":0.40,"b":0.58,"er":0.1,"eb":0.12},{"c":3,"x":152.8,"r":0.45,"b":0.50,"er":0.1,"eb":0.12},{"c":3,"x":154.0,"r":0.30,"b":0.50,"er":0.1,"eb":0.12},{"c":3,"x":154.8,"r":0.30,"b":0.50,"er":0.1,"eb":0.12},{"c":3,"x":157.5,"r":0.40,"b":0.38,"er":0.1,"eb":0.12},{"c":3,"x":158.8,"r":0.37,"b":0.36,"er":0.1,"eb":0.12},{"c":3,"x":160.1,"r":0.38,"b":0.35,"er":0.1,"eb":0.12},{"c":3,"x":161.4,"r":0.38,"b":0.40,"er":0.1,"eb":0.12},{"c":3,"x":162.4,"r":0.28,"b":0.38,"er":0.12,"eb":0.12},{"c":3,"x":163.1,"r":0.25,"b":0.40,"er":0.12,"eb":0.12},{"c":3,"x":164.0,"r":0.30,"b":0.40,"er":0.12,"eb":0.12},{"c":3,"x":165.7,"r":0.20,"b":0.32,"er":0.12,"eb":0.12},{"c":3,"x":167.1,"r":0.35,"b":0.35,"er":0.1,"eb":0.1},{"c":3,"x":169.2,"r":0.52,"b":0.55,"er":0.1,"eb":0.12},{"c":3,"x":170.5,"r":0.55,"b":0.56,"er":0.1,"eb":0.12},{"c":3,"x":172.7,"r":0.52,"b":0.63,"er":0.1,"eb":0.12},{"c":3,"x":173.6,"r":0.52,"b":0.61,"er":0.1,"eb":0.12},{"c":3,"x":174.9,"r":0.52,"b":0.63,"er":0.1,"eb":0.12},{"c":3,"x":176.2,"r":0.55,"b":0.62,"er":0.1,"eb":0.12},{"c":3,"x":178.0,"r":0.55,"b":0.63,"er":0.1,"eb":0.12},{"c":3,"x":179.7,"r":0.65,"b":0.65,"er":0.1,"eb":0.1},{"c":3,"x":181.4,"r":0.85,"b":0.68,"er":0.1,"eb":0.12},{"c":3,"x":182.7,"r":0.88,"b":0.68,"er":0.1,"eb":0.12},{"c":3,"x":184.5,"r":0.97,"b":0.70,"er":0.1,"eb":0.12},{"c":3,"x":185.8,"r":0.97,"b":0.62,"er":0.1,"eb":0.12},{"c":3,"x":187.5,"r":0.55,"b":0.20,"er":0.1,"eb":0.12},{"c":3,"x":188.8,"r":0.38,"b":0.15,"er":0.1,"eb":0.12},{"c":3,"x":190.2,"r":0.32,"b":0.15,"er":0.1,"eb":0.12},{"c":3,"x":191.5,"r":0.30,"b":0.15,"er":0.1,"eb":0.12},{"c":3,"x":193.6,"r":0.35,"b":0.20,"er":0.1,"eb":0.12},{"c":3,"x":194.9,"r":0.35,"b":0.25,"er":0.1,"eb":0.12},{"c":3,"x":196.1,"r":0.38,"b":0.27,"er":0.1,"eb":0.12},
{"c":4,"x":2.2,"r":0.32,"b":0.32,"er":0.2,"eb":0.15},{"c":4,"x":4.3,"r":0.13,"b":0.22,"er":0.15,"eb":0.1},{"c":4,"x":5.2,"r":0.22,"b":0.28,"er":0.15,"eb":0.1},{"c":4,"x":6.5,"r":0.08,"b":0.20,"er":0.15,"eb":0.1},{"c":4,"x":9.1,"r":0.15,"b":0.28,"er":0.12,"eb":0.1},{"c":4,"x":9.6,"r":0.10,"b":0.28,"er":0.12,"eb":0.1},{"c":4,"x":10.0,"r":0.0,"b":0.10,"er":0.15,"eb":0.1},{"c":4,"x":10.6,"r":-0.10,"b":0.05,"er":0.15,"eb":0.1},{"c":4,"x":11.7,"r":0.50,"b":0.70,"er":0.15,"eb":0.12},{"c":4,"x":12.6,"r":0.52,"b":0.70,"er":0.15,"eb":0.12},{"c":4,"x":13.7,"r":-0.20,"b":0.15,"er":0.15,"eb":0.15},{"c":4,"x":14.3,"r":-0.17,"b":0.28,"er":0.15,"eb":0.15},{"c":4,"x":15.5,"r":-0.18,"b":0.26,"er":0.15,"eb":0.15},{"c":4,"x":16.7,"r":-0.12,"b":0.27,"er":0.15,"eb":0.15},{"c":4,"x":17.8,"r":-0.05,"b":0.27,"er":0.15,"eb":0.12},{"c":4,"x":19.6,"r":-0.05,"b":0.22,"er":0.1,"eb":0.1},{"c":4,"x":20.7,"r":-0.17,"b":0.10,"er":0.12,"eb":0.12},{"c":4,"x":21.7,"r":-0.18,"b":0.12,"er":0.12,"eb":0.12},{"c":4,"x":22.6,"r":-0.27,"b":0.08,"er":0.12,"eb":0.12},{"c":4,"x":23.5,"r":-0.30,"b":0.05,"er":0.12,"eb":0.12},{"c":4,"x":25.2,"r":-0.33,"b":0.02,"er":0.12,"eb":0.12},{"c":4,"x":26.1,"r":-0.32,"b":0.02,"er":0.12,"eb":0.12},{"c":4,"x":27.4,"r":-0.25,"b":-0.05,"er":0.12,"eb":0.12},{"c":4,"x":28.0,"r":-0.28,"b":-0.05,"er":0.12,"eb":0.12},{"c":4,"x":28.7,"r":-0.10,"b":0.17,"er":0.12,"eb":0.12},{"c":4,"x":29.4,"r":-0.05,"b":0.08,"er":0.12,"eb":0.12},{"c":4,"x":30.3,"r":-0.05,"b":0.08,"er":0.12,"eb":0.12},{"c":4,"x":31.1,"r":0.25,"b":0.28,"er":0.1,"eb":0.1},{"c":4,"x":32.2,"r":0.25,"b":0.30,"er":0.1,"eb":0.1},{"c":4,"x":33.2,"r":0.22,"b":0.30,"er":0.1,"eb":0.1},{"c":4,"x":34.3,"r":0.25,"b":0.27,"er":0.1,"eb":0.1},{"c":4,"x":35.5,"r":0.08,"b":0.30,"er":0.1,"eb":0.1},{"c":4,"x":36.5,"r":-0.03,"b":0.28,"er":0.1,"eb":0.1},{"c":4,"x":37.4,"r":0.05,"b":0.30,"er":0.1,"eb":0.1},{"c":4,"x":38.1,"r":0.08,"b":0.32,"er":0.1,"eb":0.1},{"c":4,"x":40.4,"r":-0.30,"b":0.15,"er":0.12,"eb":0.08},{"c":4,"x":41.0,"r":-0.33,"b":0.14,"er":0.12,"eb":0.08},{"c":4,"x":42.6,"r":-0.30,"b":0.25,"er":0.12,"eb":0.1},{"c":4,"x":43.5,"r":-0.33,"b":0.22,"er":0.12,"eb":0.1},{"c":4,"x":44.3,"r":-0.33,"b":0.22,"er":0.12,"eb":0.1},{"c":4,"x":44.8,"r":-0.15,"b":0.30,"er":0.12,"eb":0.12},{"c":4,"x":45.4,"r":0.03,"b":0.38,"er":0.12,"eb":0.12},{"c":4,"x":46.1,"r":0.05,"b":0.40,"er":0.12,"eb":0.12},{"c":4,"x":46.8,"r":0.05,"b":0.38,"er":0.12,"eb":0.12},{"c":4,"x":47.8,"r":0.27,"b":0.35,"er":0.1,"eb":0.1},{"c":4,"x":53.0,"r":0.33,"b":0.22,"er":0.08,"eb":0.08},{"c":4,"x":53.7,"r":0.33,"b":0.22,"er":0.08,"eb":0.08},{"c":4,"x":55.2,"r":0.20,"b":0.15,"er":0.08,"eb":0.08},{"c":4,"x":56.5,"r":0.25,"b":0.15,"er":0.08,"eb":0.08},{"c":4,"x":57.8,"r":0.10,"b":0.12,"er":0.08,"eb":0.1},{"c":4,"x":58.7,"r":0.08,"b":0.12,"er":0.08,"eb":0.1},{"c":4,"x":60.7,"r":0.12,"b":-0.05,"er":0.1,"eb":0.12},{"c":4,"x":61.6,"r":0.15,"b":-0.10,"er":0.1,"eb":0.15},{"c":4,"x":62.4,"r":0.15,"b":-0.05,"er":0.1,"eb":0.15},{"c":4,"x":63.0,"r":0.13,"b":-0.15,"er":0.1,"eb":0.15},{"c":4,"x":64.2,"r":-0.05,"b":-0.27,"er":0.1,"eb":0.2},{"c":4,"x":65.4,"r":-0.08,"b":-0.27,"er":0.1,"eb":0.2},{"c":4,"x":66.1,"r":-0.05,"b":-0.25,"er":0.1,"eb":0.15},{"c":4,"x":66.5,"r":0.05,"b":-0.13,"er":0.1,"eb":0.12},{"c":4,"x":67.4,"r":0.15,"b":0.03,"er":0.12,"eb":0.12},{"c":4,"x":68.3,"r":0.25,"b":0.12,"er":0.12,"eb":0.12},{"c":4,"x":70.4,"r":0.55,"b":0.22,"er":0.12,"eb":0.12},{"c":4,"x":71.3,"r":0.55,"b":0.22,"er":0.12,"eb":0.12},{"c":4,"x":73.0,"r":0.65,"b":0.30,"er":0.12,"eb":0.15},{"c":4,"x":75.0,"r":0.48,"b":0.25,"er":0.12,"eb":0.12},{"c":4,"x":75.7,"r":0.40,"b":0.18,"er":0.12,"eb":0.12},{"c":4,"x":76.5,"r":0.22,"b":-0.05,"er":0.12,"eb":0.12},{"c":4,"x":77.4,"r":0.25,"b":0.0,"er":0.12,"eb":0.12},{"c":4,"x":78.4,"r":0.20,"b":-0.12,"er":0.12,"eb":0.12},{"c":4,"x":79.8,"r":0.22,"b":-0.10,"er":0.12,"eb":0.12},{"c":4,"x":80.9,"r":0.30,"b":0.03,"er":0.12,"eb":0.12},{"c":4,"x":82.2,"r":0.47,"b":0.17,"er":0.1,"eb":0.1},{"c":4,"x":83.5,"r":0.45,"b":0.15,"er":0.1,"eb":0.1},{"c":4,"x":85.0,"r":0.25,"b":0.15,"er":0.1,"eb":0.1},{"c":4,"x":85.9,"r":0.30,"b":0.17,"er":0.1,"eb":0.1},{"c":4,"x":86.8,"r":0.35,"b":0.20,"er":0.1,"eb":0.1},{"c":4,"x":87.4,"r":0.20,"b":0.15,"er":0.1,"eb":0.1},{"c":4,"x":89.4,"r":0.10,"b":0.08,"er":0.1,"eb":0.1},{"c":4,"x":90.4,"r":0.05,"b":0.08,"er":0.1,"eb":0.1},{"c":4,"x":91.3,"r":0.0,"b":0.05,"er":0.12,"eb":0.1},{"c":4,"x":92.2,"r":-0.03,"b":0.0,"er":0.12,"eb":0.1},{"c":4,"x":93.0,"r":-0.05,"b":-0.05,"er":0.1,"eb":0.1},{"c":4,"x":97.2,"r":0.0,"b":-0.20,"er":0.1,"eb":0.12},{"c":4,"x":98.7,"r":0.08,"b":-0.15,"er":0.1,"eb":0.12},{"c":4,"x":100.0,"r":0.10,"b":-0.15,"er":0.12,"eb":0.12},{"c":4,"x":100.9,"r":0.10,"b":-0.12,"er":0.12,"eb":0.12},{"c":4,"x":101.7,"r":0.18,"b":-0.05,"er":0.12,"eb":0.1},{"c":4,"x":103.3,"r":0.22,"b":-0.05,"er":0.12,"eb":0.1},{"c":4,"x":104.8,"r":0.20,"b":-0.05,"er":0.12,"eb":0.1},{"c":4,"x":106.1,"r":0.13,"b":-0.03,"er":0.1,"eb":0.1},{"c":4,"x":112.0,"r":0.0,"b":-0.05,"er":0.1,"eb":0.12},{"c":4,"x":114.3,"r":0.0,"b":-0.05,"er":0.1,"eb":0.12},{"c":4,"x":116.5,"r":-0.07,"b":-0.05,"er":0.1,"eb":0.12},{"c":4,"x":118.3,"r":-0.07,"b":-0.08,"er":0.1,"eb":0.12},{"c":4,"x":119.1,"r":-0.03,"b":-0.08,"er":0.1,"eb":0.12},{"c":4,"x":120.9,"r":-0.02,"b":-0.08,"er":0.1,"eb":0.12},{"c":4,"x":121.7,"r":0.0,"b":-0.06,"er":0.1,"eb":0.12},{"c":4,"x":122.6,"r":0.05,"b":-0.10,"er":0.1,"eb":0.12},{"c":4,"x":124.8,"r":0.15,"b":-0.22,"er":0.1,"eb":0.12},{"c":4,"x":125.8,"r":0.12,"b":-0.27,"er":0.1,"eb":0.12},{"c":4,"x":127.0,"r":0.12,"b":-0.27,"er":0.1,"eb":0.12},{"c":4,"x":127.8,"r":0.15,"b":-0.22,"er":0.1,"eb":0.12},{"c":4,"x":128.7,"r":0.12,"b":-0.22,"er":0.1,"eb":0.12},{"c":4,"x":130.0,"r":0.15,"b":-0.22,"er":0.1,"eb":0.12},{"c":4,"x":131.3,"r":0.15,"b":-0.22,"er":0.1,"eb":0.12},{"c":4,"x":132.2,"r":0.12,"b":-0.22,"er":0.1,"eb":0.12},{"c":4,"x":133.5,"r":0.25,"b":-0.15,"er":0.1,"eb":0.12},{"c":4,"x":134.8,"r":0.28,"b":-0.13,"er":0.1,"eb":0.12},{"c":4,"x":136.1,"r":0.28,"b":-0.13,"er":0.1,"eb":0.12},{"c":4,"x":137.1,"r":0.0,"b":-0.25,"er":0.1,"eb":0.12},{"c":4,"x":138.0,"r":-0.05,"b":-0.35,"er":0.1,"eb":0.12},{"c":4,"x":139.2,"r":0.02,"b":-0.33,"er":0.1,"eb":0.12},{"c":4,"x":140.5,"r":0.05,"b":-0.33,"er":0.1,"eb":0.12},{"c":4,"x":141.8,"r":0.08,"b":-0.22,"er":0.1,"eb":0.12},{"c":4,"x":143.1,"r":0.10,"b":-0.20,"er":0.1,"eb":0.12},{"c":4,"x":144.4,"r":0.02,"b":-0.25,"er":0.1,"eb":0.12},{"c":4,"x":145.7,"r":0.02,"b":-0.25,"er":0.1,"eb":0.12},{"c":4,"x":147.4,"r":0.03,"b":-0.25,"er":0.1,"eb":0.12},{"c":4,"x":148.7,"r":0.05,"b":-0.23,"er":0.1,"eb":0.12},{"c":4,"x":150.1,"r":0.08,"b":-0.22,"er":0.1,"eb":0.12},{"c":4,"x":151.8,"r":0.10,"b":-0.20,"er":0.1,"eb":0.12},{"c":4,"x":153.1,"r":0.08,"b":-0.20,"er":0.1,"eb":0.12},{"c":4,"x":154.6,"r":0.05,"b":-0.22,"er":0.1,"eb":0.12},{"c":4,"x":155.7,"r":-0.08,"b":-0.25,"er":0.1,"eb":0.12},{"c":4,"x":157.0,"r":-0.12,"b":-0.27,"er":0.1,"eb":0.12},{"c":4,"x":158.8,"r":-0.12,"b":-0.30,"er":0.1,"eb":0.12},{"c":4,"x":160.9,"r":-0.08,"b":-0.28,"er":0.1,"eb":0.12},{"c":4,"x":162.1,"r":-0.08,"b":-0.35,"er":0.1,"eb":0.15},{"c":4,"x":163.1,"r":-0.15,"b":-0.37,"er":0.1,"eb":0.15},{"c":4,"x":164.0,"r":-0.20,"b":-0.40,"er":0.1,"eb":0.15},{"c":4,"x":165.0,"r":-0.12,"b":-0.35,"er":0.1,"eb":0.15},{"c":4,"x":166.6,"r":0.05,"b":-0.22,"er":0.1,"eb":0.15},{"c":4,"x":167.5,"r":0.13,"b":-0.20,"er":0.1,"eb":0.15},{"c":4,"x":169.7,"r":0.17,"b":-0.17,"er":0.1,"eb":0.15},{"c":4,"x":171.7,"r":0.12,"b":-0.17,"er":0.1,"eb":0.15},{"c":4,"x":172.7,"r":0.08,"b":-0.22,"er":0.1,"eb":0.15},{"c":4,"x":173.6,"r":0.08,"b":-0.22,"er":0.1,"eb":0.15},{"c":4,"x":174.5,"r":0.03,"b":-0.35,"er":0.1,"eb":0.15},{"c":4,"x":176.9,"r":0.05,"b":-0.33,"er":0.1,"eb":0.15},{"c":4,"x":178.0,"r":0.20,"b":-0.23,"er":0.12,"eb":0.15},{"c":4,"x":179.3,"r":0.22,"b":-0.25,"er":0.12,"eb":0.15},{"c":4,"x":181.0,"r":-0.05,"b":-0.40,"er":0.1,"eb":0.15},{"c":4,"x":182.7,"r":-0.18,"b":-0.43,"er":0.1,"eb":0.15},{"c":4,"x":184.5,"r":-0.05,"b":-0.35,"er":0.1,"eb":0.15},{"c":4,"x":185.8,"r":0.08,"b":-0.35,"er":0.1,"eb":0.15},{"c":4,"x":186.8,"r":0.22,"b":-0.38,"er":0.1,"eb":0.15},{"c":4,"x":188.0,"r":0.23,"b":-0.42,"er":0.1,"eb":0.15},{"c":4,"x":189.1,"r":0.22,"b":-0.42,"er":0.1,"eb":0.15},{"c":4,"x":190.0,"r":0.23,"b":-0.38,"er":0.1,"eb":0.15},{"c":4,"x":191.0,"r":0.22,"b":-0.45,"er":0.1,"eb":0.15},
{"c":5,"x":1.6,"r":0.67,"b":1.05,"er":0.2,"eb":0.3},{"c":5,"x":2.6,"r":0.67,"b":1.05,"er":0.2,"eb":0.3},{"c":5,"x":3.5,"r":0.67,"b":1.05,"er":0.2,"eb":0.3},{"c":5,"x":4.8,"r":0.40,"b":1.20,"er":0.25,"eb":0.4},{"c":5,"x":5.7,"r":0.38,"b":1.10,"er":0.25,"eb":0.4},{"c":5,"x":6.3,"r":0.35,"b":1.05,"er":0.25,"eb":0.4},{"c":5,"x":7.0,"r":0.30,"b":0.95,"er":0.25,"eb":0.4},{"c":5,"x":8.0,"r":0.40,"b":1.05,"er":0.3,"eb":0.35},{"c":5,"x":8.5,"r":0.33,"b":1.00,"er":0.3,"eb":0.35},{"c":5,"x":9.4,"r":0.27,"b":0.90,"er":0.3,"eb":0.35},{"c":5,"x":10.3,"r":0.77,"b":1.35,"er":0.35,"eb":0.35},{"c":5,"x":10.9,"r":0.75,"b":1.32,"er":0.35,"eb":0.35},{"c":5,"x":11.5,"r":0.52,"b":1.10,"er":0.35,"eb":0.35},{"c":5,"x":12.2,"r":0.85,"b":1.38,"er":0.4,"eb":0.4},{"c":5,"x":13.2,"r":0.92,"b":1.40,"er":0.45,"eb":0.4},{"c":5,"x":13.9,"r":0.93,"b":1.42,"er":0.45,"eb":0.4},{"c":5,"x":15.8,"r":1.03,"b":1.42,"er":0.5,"eb":0.42},{"c":5,"x":17.0,"r":1.03,"b":1.40,"er":0.5,"eb":0.42},{"c":5,"x":17.8,"r":0.98,"b":1.33,"er":0.5,"eb":0.42},{"c":5,"x":18.7,"r":0.92,"b":1.25,"er":0.5,"eb":0.42},{"c":5,"x":19.8,"r":0.92,"b":1.25,"er":0.5,"eb":0.42},{"c":5,"x":21.3,"r":0.92,"b":1.27,"er":0.5,"eb":0.42},{"c":5,"x":22.6,"r":0.82,"b":1.22,"er":0.5,"eb":0.42},{"c":5,"x":23.3,"r":0.82,"b":1.22,"er":0.5,"eb":0.42},{"c":5,"x":25.2,"r":0.75,"b":1.22,"er":0.45,"eb":0.42},{"c":5,"x":26.5,"r":0.72,"b":1.20,"er":0.45,"eb":0.42},{"c":5,"x":28.0,"r":0.62,"b":1.15,"er":0.45,"eb":0.4},{"c":5,"x":29.1,"r":0.62,"b":1.16,"er":0.45,"eb":0.4},{"c":5,"x":30.0,"r":0.60,"b":1.15,"er":0.45,"eb":0.4},{"c":5,"x":31.1,"r":0.60,"b":1.15,"er":0.45,"eb":0.4},{"c":5,"x":32.9,"r":0.50,"b":1.00,"er":0.4,"eb":0.3},{"c":5,"x":33.9,"r":0.47,"b":0.92,"er":0.4,"eb":0.3},{"c":5,"x":34.8,"r":0.45,"b":0.90,"er":0.4,"eb":0.3},{"c":5,"x":35.5,"r":0.43,"b":0.80,"er":0.4,"eb":0.3},{"c":5,"x":36.3,"r":0.40,"b":0.70,"er":0.4,"eb":0.3},{"c":5,"x":38.1,"r":0.50,"b":0.73,"er":0.3,"eb":0.3},{"c":5,"x":39.0,"r":0.40,"b":0.62,"er":0.3,"eb":0.3},{"c":5,"x":39.6,"r":0.35,"b":0.60,"er":0.3,"eb":0.3},{"c":5,"x":40.4,"r":0.52,"b":0.75,"er":0.3,"eb":0.3},{"c":5,"x":41.3,"r":0.28,"b":0.80,"er":0.3,"eb":0.3},{"c":5,"x":42.6,"r":0.22,"b":0.75,"er":0.3,"eb":0.3},{"c":5,"x":44.3,"r":0.28,"b":0.68,"er":0.25,"eb":0.3},{"c":5,"x":50.4,"r":0.28,"b":0.55,"er":0.2,"eb":0.2},{"c":5,"x":52.0,"r":0.12,"b":0.35,"er":0.15,"eb":0.15},{"c":5,"x":52.6,"r":-0.12,"b":0.05,"er":0.12,"eb":0.12},{"c":5,"x":53.5,"r":-0.15,"b":0.10,"er":0.12,"eb":0.12},{"c":5,"x":54.3,"r":-0.12,"b":0.10,"er":0.12,"eb":0.12},{"c":5,"x":55.5,"r":-0.15,"b":0.05,"er":0.12,"eb":0.12},{"c":5,"x":56.7,"r":-0.08,"b":-0.10,"er":0.12,"eb":0.12},{"c":5,"x":57.8,"r":-0.22,"b":-0.22,"er":0.12,"eb":0.12},{"c":5,"x":58.7,"r":-0.25,"b":-0.25,"er":0.12,"eb":0.12},{"c":5,"x":59.8,"r":-0.50,"b":-0.45,"er":0.12,"eb":0.15},{"c":5,"x":60.7,"r":-0.45,"b":-0.38,"er":0.12,"eb":0.15},{"c":5,"x":61.6,"r":-0.50,"b":-0.42,"er":0.12,"eb":0.15},{"c":5,"x":62.4,"r":-0.52,"b":-0.50,"er":0.12,"eb":0.15},{"c":5,"x":63.3,"r":-0.45,"b":-0.45,"er":0.12,"eb":0.15},{"c":5,"x":63.9,"r":-0.45,"b":-0.42,"er":0.12,"eb":0.15},{"c":5,"x":65.0,"r":-0.45,"b":-0.40,"er":0.12,"eb":0.15},{"c":5,"x":65.9,"r":-0.58,"b":-0.52,"er":0.12,"eb":0.2},{"c":5,"x":68.0,"r":-0.55,"b":-0.55,"er":0.12,"eb":0.2},{"c":5,"x":71.5,"r":-0.55,"b":-0.52,"er":0.1,"eb":0.15},{"c":5,"x":72.4,"r":-0.52,"b":-0.58,"er":0.1,"eb":0.15},{"c":5,"x":73.7,"r":-0.50,"b":-0.48,"er":0.1,"eb":0.15},{"c":5,"x":75.5,"r":-0.50,"b":-0.48,"er":0.1,"eb":0.15},{"c":5,"x":77.4,"r":-0.45,"b":-0.45,"er":0.1,"eb":0.12},{"c":5,"x":79.1,"r":-0.45,"b":-0.30,"er":0.1,"eb":0.12},{"c":5,"x":80.0,"r":-0.48,"b":-0.22,"er":0.1,"eb":0.12},{"c":5,"x":80.9,"r":-0.48,"b":-0.28,"er":0.1,"eb":0.12},{"c":5,"x":81.7,"r":-0.50,"b":-0.25,"er":0.1,"eb":0.12},{"c":5,"x":83.5,"r":-0.50,"b":-0.22,"er":0.1,"eb":0.12},{"c":5,"x":85.7,"r":-0.65,"b":-0.25,"er":0.1,"eb":0.12},{"c":5,"x":86.8,"r":-0.65,"b":-0.27,"er":0.1,"eb":0.12},{"c":5,"x":87.7,"r":-0.78,"b":-0.45,"er":0.1,"eb":0.12},{"c":5,"x":88.3,"r":-0.80,"b":-0.40,"er":0.1,"eb":0.12},{"c":5,"x":89.4,"r":-0.82,"b":-0.55,"er":0.1,"eb":0.12},{"c":5,"x":90.3,"r":-0.80,"b":-0.60,"er":0.1,"eb":0.12},{"c":5,"x":91.3,"r":-0.75,"b":-0.60,"er":0.1,"eb":0.12},{"c":5,"x":92.2,"r":-0.58,"b":-0.48,"er":0.1,"eb":0.12},{"c":5,"x":93.7,"r":-0.27,"b":-0.25,"er":0.1,"eb":0.1},{"c":5,"x":94.6,"r":-0.38,"b":-0.35,"er":0.1,"eb":0.1},{"c":5,"x":96.1,"r":-0.20,"b":-0.22,"er":0.1,"eb":0.1},{"c":5,"x":97.2,"r":-0.15,"b":-0.15,"er":0.1,"eb":0.1},{"c":5,"x":98.1,"r":-0.12,"b":-0.12,"er":0.1,"eb":0.1},{"c":5,"x":98.7,"r":-0.08,"b":-0.08,"er":0.1,"eb":0.1},{"c":5,"x":101.3,"r":-0.05,"b":-0.10,"er":0.1,"eb":0.1},{"c":5,"x":102.2,"r":0.0,"b":-0.12,"er":0.1,"eb":0.1},{"c":5,"x":103.0,"r":0.03,"b":-0.15,"er":0.1,"eb":0.1},{"c":5,"x":103.7,"r":0.03,"b":-0.15,"er":0.1,"eb":0.1},{"c":5,"x":106.1,"r":-0.22,"b":-0.22,"er":0.1,"eb":0.12},{"c":5,"x":107.4,"r":-0.20,"b":-0.25,"er":0.1,"eb":0.12},{"c":5,"x":108.7,"r":-0.30,"b":-0.32,"er":0.1,"eb":0.12},{"c":5,"x":109.6,"r":-0.33,"b":-0.35,"er":0.1,"eb":0.12},{"c":5,"x":110.9,"r":-0.20,"b":-0.28,"er":0.1,"eb":0.1},{"c":5,"x":112.2,"r":-0.20,"b":-0.20,"er":0.1,"eb":0.1},{"c":5,"x":113.5,"r":-0.20,"b":-0.20,"er":0.1,"eb":0.1},{"c":5,"x":115.2,"r":-0.33,"b":-0.30,"er":0.1,"eb":0.1},{"c":5,"x":116.3,"r":-0.33,"b":-0.25,"er":0.1,"eb":0.1},{"c":5,"x":117.4,"r":-0.38,"b":-0.40,"er":0.1,"eb":0.12},{"c":5,"x":118.1,"r":-0.40,"b":-0.40,"er":0.1,"eb":0.12},{"c":5,"x":119.0,"r":-0.20,"b":-0.25,"er":0.1,"eb":0.12},{"c":5,"x":120.0,"r":-0.15,"b":-0.25,"er":0.1,"eb":0.12},{"c":5,"x":120.9,"r":-0.12,"b":-0.25,"er":0.1,"eb":0.12},{"c":5,"x":122.2,"r":-0.25,"b":-0.30,"er":0.1,"eb":0.12},{"c":5,"x":123.3,"r":-0.23,"b":-0.35,"er":0.1,"eb":0.12},{"c":5,"x":124.3,"r":-0.15,"b":-0.15,"er":0.1,"eb":0.1},{"c":5,"x":125.2,"r":-0.10,"b":-0.12,"er":0.1,"eb":0.1},{"c":5,"x":126.1,"r":-0.10,"b":-0.05,"er":0.1,"eb":0.1},{"c":5,"x":127.0,"r":-0.20,"b":-0.15,"er":0.1,"eb":0.1},{"c":5,"x":129.0,"r":-0.40,"b":-0.38,"er":0.1,"eb":0.1},{"c":5,"x":130.0,"r":-0.43,"b":-0.40,"er":0.1,"eb":0.1},{"c":5,"x":132.4,"r":-0.42,"b":-0.42,"er":0.1,"eb":0.1},{"c":5,"x":133.1,"r":-0.40,"b":-0.42,"er":0.1,"eb":0.1},{"c":5,"x":134.2,"r":-0.30,"b":-0.35,"er":0.1,"eb":0.1},{"c":5,"x":135.4,"r":-0.25,"b":-0.28,"er":0.1,"eb":0.1},{"c":5,"x":138.3,"r":-0.25,"b":-0.25,"er":0.1,"eb":0.1},{"c":5,"x":139.4,"r":-0.20,"b":-0.22,"er":0.1,"eb":0.1},{"c":5,"x":140.9,"r":-0.10,"b":-0.07,"er":0.1,"eb":0.1},{"c":5,"x":142.2,"r":-0.10,"b":-0.08,"er":0.1,"eb":0.1},{"c":5,"x":143.5,"r":-0.07,"b":-0.15,"er":0.1,"eb":0.1},{"c":5,"x":144.6,"r":-0.05,"b":-0.13,"er":0.1,"eb":0.1},{"c":5,"x":145.7,"r":-0.03,"b":-0.13,"er":0.1,"eb":0.1},{"c":5,"x":147.0,"r":0.02,"b":-0.10,"er":0.1,"eb":0.1},{"c":5,"x":147.9,"r":0.03,"b":-0.08,"er":0.1,"eb":0.1},{"c":5,"x":150.2,"r":0.0,"b":-0.10,"er":0.1,"eb":0.1},{"c":5,"x":151.1,"r":0.05,"b":-0.12,"er":0.1,"eb":0.1},{"c":5,"x":152.2,"r":0.05,"b":0.0,"er":0.1,"eb":0.1},{"c":5,"x":153.1,"r":0.10,"b":0.03,"er":0.1,"eb":0.1},{"c":5,"x":153.7,"r":0.15,"b":0.03,"er":0.1,"eb":0.1},{"c":5,"x":154.6,"r":-0.30,"b":-0.20,"er":0.12,"eb":0.12},{"c":5,"x":155.7,"r":-0.45,"b":-0.33,"er":0.12,"eb":0.12},{"c":5,"x":156.6,"r":-0.40,"b":-0.22,"er":0.12,"eb":0.12},{"c":5,"x":157.5,"r":-0.35,"b":-0.25,"er":0.12,"eb":0.12},{"c":5,"x":158.3,"r":-0.40,"b":-0.22,"er":0.12,"eb":0.12},{"c":5,"x":158.9,"r":-0.35,"b":-0.22,"er":0.12,"eb":0.12},{"c":5,"x":159.8,"r":-0.15,"b":0.0,"er":0.12,"eb":0.12},{"c":5,"x":160.7,"r":-0.08,"b":0.15,"er":0.12,"eb":0.12},{"c":5,"x":161.8,"r":-0.12,"b":0.13,"er":0.12,"eb":0.12},{"c":5,"x":162.7,"r":-0.12,"b":0.12,"er":0.12,"eb":0.12},{"c":5,"x":163.8,"r":-0.15,"b":0.10,"er":0.12,"eb":0.12},{"c":5,"x":164.9,"r":-0.20,"b":0.08,"er":0.12,"eb":0.12},{"c":5,"x":166.2,"r":-0.30,"b":-0.02,"er":0.12,"eb":0.12},{"c":5,"x":167.5,"r":-0.45,"b":-0.10,"er":0.12,"eb":0.12},{"c":5,"x":168.4,"r":-0.48,"b":-0.13,"er":0.12,"eb":0.12},{"c":5,"x":169.2,"r":-0.47,"b":-0.12,"er":0.12,"eb":0.12},{"c":5,"x":170.5,"r":-0.35,"b":-0.05,"er":0.12,"eb":0.12},{"c":5,"x":171.7,"r":-0.38,"b":-0.05,"er":0.12,"eb":0.12},{"c":5,"x":173.2,"r":-0.05,"b":0.08,"er":0.12,"eb":0.12},{"c":5,"x":174.3,"r":-0.05,"b":0.07,"er":0.12,"eb":0.12},{"c":5,"x":175.3,"r":0.02,"b":0.10,"er":0.12,"eb":0.12},{"c":5,"x":176.2,"r":0.05,"b":0.12,"er":0.12,"eb":0.12},{"c":5,"x":178.4,"r":0.0,"b":0.20,"er":0.15,"eb":0.15}
],
"ticks": [
{"c":1,"s":4.2,"e":4.6,"k":"Y"},{"c":1,"s":5.0,"e":5.4,"k":"Y"},{"c":1,"s":6.8,"e":7.2,"k":"Y"},{"c":1,"s":7.6,"e":8.0,"k":"Y"},{"c":1,"s":10.4,"e":10.8,"k":"Y"},{"c":1,"s":13.9,"e":15.3,"k":"Y"},{"c":1,"s":18.7,"e":20.9,"k":"Y"},{"c":1,"s":21.6,"e":22.6,"k":"Y"},{"c":1,"s":23.9,"e":24.8,"k":"Y"},{"c":1,"s":25.9,"e":26.3,"k":"Y"},{"c":1,"s":28.7,"e":30.9,"k":"Y"},{"c":1,"s":33.2,"e":35.2,"k":"Y"},{"c":1,"s":35.7,"e":37.0,"k":"Y"},{"c":1,"s":38.5,"e":38.9,"k":"Y"},{"c":1,"s":41.5,"e":41.9,"k":"Y"},{"c":1,"s":44.3,"e":44.7,"k":"Y"},{"c":1,"s":46.6,"e":47.0,"k":"Y"},{"c":1,"s":48.5,"e":50.4,"k":"Y"},{"c":1,"s":52.0,"e":53.0,"k":"Y"},{"c":1,"s":53.9,"e":54.6,"k":"Y"},{"c":1,"s":55.0,"e":59.1,"k":"Y"},{"c":1,"s":59.8,"e":61.0,"k":"Y"},{"c":1,"s":62.0,"e":67.4,"k":"Y"},{"c":1,"s":68.0,"e":70.0,"k":"Y"},{"c":1,"s":71.7,"e":73.0,"k":"Y"},{"c":1,"s":73.5,"e":73.9,"k":"Y"},{"c":1,"s":75.7,"e":77.4,"k":"Y"},{"c":1,"s":78.7,"e":81.3,"k":"Y"},{"c":1,"s":81.3,"e":82.6,"k":"O"},{"c":1,"s":82.6,"e":83.5,"k":"R"},{"c":1,"s":83.5,"e":84.2,"k":"Y"},{"c":1,"s":84.3,"e":84.8,"k":"R"},{"c":1,"s":86.1,"e":86.5,"k":"O"},{"c":1,"s":87.0,"e":88.3,"k":"Y"},{"c":1,"s":89.6,"e":90.0,"k":"Y"},{"c":1,"s":91.5,"e":91.9,"k":"Y"},{"c":1,"s":93.7,"e":96.5,"k":"Y"},{"c":1,"s":97.6,"e":100.0,"k":"Y"},{"c":1,"s":100.4,"e":102.4,"k":"Y"},{"c":1,"s":103.0,"e":105.2,"k":"Y"},{"c":1,"s":105.7,"e":107.8,"k":"Y"},{"c":1,"s":108.9,"e":110.0,"k":"Y"},{"c":1,"s":110.9,"e":112.2,"k":"Y"},{"c":1,"s":113.0,"e":114.3,"k":"Y"},{"c":1,"s":115.2,"e":118.3,"k":"Y"},{"c":1,"s":119.0,"e":119.6,"k":"Y"},{"c":1,"s":143.8,"e":144.6,"k":"Y"},{"c":1,"s":145.7,"e":147.0,"k":"Y"},{"c":1,"s":148.3,"e":151.8,"k":"Y"},{"c":1,"s":153.4,"e":155.3,"k":"Y"},{"c":1,"s":156.6,"e":157.9,"k":"Y"},{"c":1,"s":158.6,"e":162.7,"k":"Y"},{"c":1,"s":163.1,"e":167.5,"k":"Y"},{"c":1,"s":167.7,"e":171.8,"k":"Y"},{"c":1,"s":172.3,"e":174.5,"k":"Y"},{"c":1,"s":176.2,"e":178.4,"k":"Y"},{"c":1,"s":178.8,"e":183.2,"k":"Y"},{"c":1,"s":184.5,"e":188.4,"k":"Y"},{"c":1,"s":188.8,"e":191.0,"k":"Y"},{"c":1,"s":191.9,"e":196.7,"k":"Y"},{"c":1,"s":197.6,"e":201.1,"k":"Y"},{"c":1,"s":202.4,"e":206.3,"k":"Y"},{"c":1,"s":207.2,"e":208.9,"k":"Y"},{"c":1,"s":209.8,"e":218.5,"k":"Y"},{"c":1,"s":219.8,"e":221.5,"k":"Y"},{"c":1,"s":223.3,"e":225.0,"k":"Y"},{"c":1,"s":226.3,"e":234.6,"k":"Y"},{"c":1,"s":235.5,"e":239.4,"k":"Y"},{"c":1,"s":240.3,"e":242.9,"k":"Y"},{"c":1,"s":244.2,"e":245.1,"k":"Y"},
{"c":2,"s":0.4,"e":7.4,"k":"Y"},{"c":2,"s":8.7,"e":13.2,"k":"Y"},{"c":2,"s":13.9,"e":20.0,"k":"Y"},{"c":2,"s":21.1,"e":21.5,"k":"Y"},{"c":2,"s":23.5,"e":28.3,"k":"Y"},{"c":2,"s":29.6,"e":31.7,"k":"Y"},{"c":2,"s":32.9,"e":36.5,"k":"Y"},{"c":2,"s":37.4,"e":38.3,"k":"Y"},{"c":2,"s":39.6,"e":41.9,"k":"Y"},{"c":2,"s":43.9,"e":47.7,"k":"Y"},{"c":2,"s":48.7,"e":53.9,"k":"Y"},{"c":2,"s":55.5,"e":57.7,"k":"Y"},{"c":2,"s":58.5,"e":58.9,"k":"Y"},{"c":2,"s":60.7,"e":61.9,"k":"Y"},{"c":2,"s":62.6,"e":63.0,"k":"Y"},{"c":2,"s":64.6,"e":65.0,"k":"Y"},{"c":2,"s":66.8,"e":68.0,"k":"Y"},{"c":2,"s":69.7,"e":71.7,"k":"Y"},{"c":2,"s":76.3,"e":77.6,"k":"Y"},{"c":2,"s":79.0,"e":84.3,"k":"Y"},{"c":2,"s":85.9,"e":86.3,"k":"Y"},{"c":2,"s":88.1,"e":88.5,"k":"Y"},{"c":2,"s":97.8,"e":99.6,"k":"Y"},{"c":2,"s":100.9,"e":104.2,"k":"Y"},{"c":2,"s":104.8,"e":106.1,"k":"Y"},{"c":2,"s":107.4,"e":109.1,"k":"Y"},{"c":2,"s":110.4,"e":113.9,"k":"Y"},{"c":2,"s":115.0,"e":119.0,"k":"Y"},{"c":2,"s":120.7,"e":121.1,"k":"Y"},{"c":2,"s":122.4,"e":123.9,"k":"Y"},{"c":2,"s":124.6,"e":126.1,"k":"Y"},{"c":2,"s":127.2,"e":127.6,"k":"Y"},{"c":2,"s":129.0,"e":130.0,"k":"Y"},{"c":2,"s":133.5,"e":135.2,"k":"Y"},{"c":2,"s":136.3,"e":142.0,"k":"Y"},{"c":2,"s":144.0,"e":159.6,"k":"Y"},{"c":2,"s":160.5,"e":165.7,"k":"Y"},{"c":2,"s":166.6,"e":169.7,"k":"Y"},{"c":2,"s":171.0,"e":174.3,"k":"Y"},{"c":2,"s":176.2,"e":178.8,"k":"Y"},{"c":2,"s":178.8,"e":183.2,"k":"O"},{"c":2,"s":183.6,"e":187.1,"k":"Y"},{"c":2,"s":190.2,"e":191.9,"k":"Y"},{"c":2,"s":193.2,"e":195.2,"k":"Y"},{"c":2,"s":196.7,"e":199.3,"k":"Y"},{"c":2,"s":201.9,"e":202.8,"k":"Y"},{"c":2,"s":204.1,"e":205.4,"k":"O"},{"c":2,"s":206.3,"e":207.0,"k":"R"},{"c":2,"s":207.0,"e":207.6,"k":"O"},{"c":2,"s":207.6,"e":208.0,"k":"R"},{"c":2,"s":208.5,"e":209.0,"k":"B"},{"c":2,"s":209.3,"e":209.7,"k":"Y"},{"c":2,"s":210.0,"e":210.5,"k":"B"},{"c":2,"s":210.8,"e":211.2,"k":"Y"},{"c":2,"s":211.5,"e":213.3,"k":"B"},{"c":2,"s":214.1,"e":218.5,"k":"R"},{"c":2,"s":218.8,"e":219.2,"k":"Y"},{"c":2,"s":219.4,"e":223.3,"k":"Y"},{"c":2,"s":223.7,"e":225.5,"k":"Y"},{"c":2,"s":225.7,"e":227.6,"k":"O"},{"c":2,"s":230.3,"e":231.6,"k":"Y"},{"c":2,"s":234.2,"e":235.5,"k":"Y"},{"c":2,"s":237.2,"e":238.5,"k":"Y"},
{"c":3,"s":0.4,"e":9.6,"k":"Y"},{"c":3,"s":10.6,"e":16.3,"k":"Y"},{"c":3,"s":18.1,"e":19.6,"k":"Y"},{"c":3,"s":21.0,"e":21.9,"k":"Y"},{"c":3,"s":23.5,"e":24.2,"k":"Y"},{"c":3,"s":25.7,"e":29.1,"k":"Y"},{"c":3,"s":29.8,"e":31.3,"k":"Y"},{"c":3,"s":34.3,"e":37.2,"k":"Y"},{"c":3,"s":39.3,"e":42.6,"k":"Y"},{"c":3,"s":44.8,"e":47.1,"k":"O"},{"c":3,"s":51.1,"e":57.4,"k":"Y"},{"c":3,"s":58.3,"e":66.1,"k":"Y"},{"c":3,"s":66.5,"e":71.3,"k":"Y"},{"c":3,"s":73.0,"e":75.0,"k":"Y"},{"c":3,"s":78.7,"e":80.0,"k":"Y"},{"c":3,"s":80.9,"e":83.3,"k":"Y"},{"c":3,"s":85.7,"e":87.0,"k":"Y"},{"c":3,"s":88.5,"e":88.9,"k":"Y"},{"c":3,"s":95.7,"e":99.1,"k":"Y"},{"c":3,"s":100.0,"e":101.3,"k":"Y"},{"c":3,"s":102.2,"e":107.4,"k":"Y"},{"c":3,"s":109.1,"e":110.0,"k":"Y"},{"c":3,"s":112.3,"e":115.2,"k":"Y"},{"c":3,"s":117.4,"e":128.7,"k":"Y"},{"c":3,"s":130.0,"e":136.1,"k":"Y"},{"c":3,"s":138.3,"e":139.2,"k":"Y"},{"c":3,"s":140.6,"e":142.6,"k":"Y"},{"c":3,"s":143.5,"e":155.3,"k":"Y"},{"c":3,"s":157.5,"e":167.9,"k":"Y"},{"c":3,"s":168.8,"e":171.4,"k":"Y"},{"c":3,"s":172.3,"e":178.4,"k":"Y"},{"c":3,"s":179.5,"e":179.9,"k":"Y"},{"c":3,"s":181.4,"e":183.6,"k":"Y"},{"c":3,"s":184.2,"e":185.4,"k":"O"},{"c":3,"s":186.2,"e":192.3,"k":"Y"},{"c":3,"s":193.6,"e":196.4,"k":"Y"},
{"c":4,"s":1.9,"e":2.6,"k":"Y"},{"c":4,"s":4.2,"e":4.8,"k":"Y"},{"c":4,"s":6.3,"e":7.0,"k":"Y"},{"c":4,"s":9.1,"e":10.9,"k":"Y"},{"c":4,"s":11.5,"e":13.0,"k":"Y"},{"c":4,"s":13.5,"e":16.1,"k":"Y"},{"c":4,"s":16.5,"e":18.3,"k":"Y"},{"c":4,"s":19.6,"e":23.9,"k":"Y"},{"c":4,"s":25.2,"e":31.7,"k":"Y"},{"c":4,"s":32.3,"e":38.1,"k":"Y"},{"c":4,"s":40.0,"e":40.6,"k":"B"},{"c":4,"s":40.7,"e":41.3,"k":"R"},{"c":4,"s":42.4,"e":43.7,"k":"B"},{"c":4,"s":44.2,"e":44.8,"k":"R"},{"c":4,"s":45.2,"e":48.0,"k":"Y"},{"c":4,"s":52.9,"e":59.3,"k":"Y"},{"c":4,"s":60.7,"e":63.3,"k":"Y"},{"c":4,"s":65.2,"e":68.7,"k":"Y"},{"c":4,"s":70.4,"e":73.5,"k":"Y"},{"c":4,"s":75.0,"e":81.3,"k":"Y"},{"c":4,"s":82.2,"e":84.2,"k":"Y"},{"c":4,"s":85.0,"e":87.8,"k":"Y"},{"c":4,"s":88.9,"e":93.3,"k":"Y"},{"c":4,"s":97.0,"e":97.8,"k":"Y"},{"c":4,"s":99.6,"e":106.5,"k":"Y"},{"c":4,"s":111.7,"e":112.6,"k":"Y"},{"c":4,"s":114.1,"e":114.5,"k":"Y"},{"c":4,"s":116.5,"e":119.6,"k":"Y"},{"c":4,"s":120.4,"e":129.1,"k":"Y"},{"c":4,"s":129.8,"e":131.0,"k":"O"},{"c":4,"s":131.6,"e":132.2,"k":"Y"},{"c":4,"s":133.3,"e":141.3,"k":"Y"},{"c":4,"s":142.0,"e":150.9,"k":"Y"},{"c":4,"s":151.4,"e":157.9,"k":"Y"},{"c":4,"s":158.8,"e":159.6,"k":"Y"},{"c":4,"s":160.9,"e":167.9,"k":"Y"},{"c":4,"s":169.7,"e":170.5,"k":"Y"},{"c":4,"s":171.4,"e":175.2,"k":"Y"},{"c":4,"s":177.1,"e":183.2,"k":"Y"},{"c":4,"s":184.5,"e":186.7,"k":"Y"},{"c":4,"s":187.1,"e":188.8,"k":"B"},{"c":4,"s":188.8,"e":190.6,"k":"R"},{"c":4,"s":191.0,"e":191.5,"k":"B"},
{"c":5,"s":1.6,"e":4.0,"k":"Y"},{"c":5,"s":4.8,"e":7.4,"k":"Y"},{"c":5,"s":8.0,"e":12.6,"k":"Y"},{"c":5,"s":13.2,"e":14.3,"k":"Y"},{"c":5,"s":15.7,"e":18.7,"k":"Y"},{"c":5,"s":19.6,"e":23.5,"k":"Y"},{"c":5,"s":25.0,"e":29.6,"k":"Y"},{"c":5,"s":32.9,"e":36.5,"k":"Y"},{"c":5,"s":38.1,"e":42.2,"k":"Y"},{"c":5,"s":44.1,"e":44.5,"k":"Y"},{"c":5,"s":50.4,"e":50.8,"k":"Y"},{"c":5,"s":52.0,"e":55.7,"k":"Y"},{"c":5,"s":57.0,"e":63.9,"k":"Y"},{"c":5,"s":65.2,"e":66.3,"k":"Y"},{"c":5,"s":68.1,"e":68.5,"k":"Y"},{"c":5,"s":71.5,"e":72.2,"k":"Y"},{"c":5,"s":73.5,"e":73.9,"k":"Y"},{"c":5,"s":75.2,"e":77.6,"k":"Y"},{"c":5,"s":79.0,"e":83.0,"k":"Y"},{"c":5,"s":85.7,"e":86.5,"k":"R"},{"c":5,"s":86.5,"e":88.5,"k":"B"},{"c":5,"s":89.1,"e":89.7,"k":"R"},{"c":5,"s":90.3,"e":93.5,"k":"Y"},{"c":5,"s":93.9,"e":95.0,"k":"Y"},{"c":5,"s":95.7,"e":99.0,"k":"Y"},{"c":5,"s":101.3,"e":104.2,"k":"Y"},{"c":5,"s":105.9,"e":109.6,"k":"Y"},{"c":5,"s":110.4,"e":114.1,"k":"Y"},{"c":5,"s":115.2,"e":117.4,"k":"Y"},{"c":5,"s":117.8,"e":127.6,"k":"Y"},{"c":5,"s":128.7,"e":130.4,"k":"Y"},{"c":5,"s":132.4,"e":135.9,"k":"Y"},{"c":5,"s":138.0,"e":148.1,"k":"Y"},{"c":5,"s":150.1,"e":167.1,"k":"Y"},{"c":5,"s":168.8,"e":169.7,"k":"O"},{"c":5,"s":170.0,"e":171.9,"k":"Y"},{"c":5,"s":172.7,"e":175.3,"k":"Y"},{"c":5,"s":176.0,"e":176.4,"k":"Y"},{"c":5,"s":178.2,"e":178.6,"k":"Y"}
],
"segs": [
{"c":2,"g":"r","x":209.05,"y":-1.21},{"c":2,"g":"r","x":216.3,"y":-1.21},
{"c":2,"g":"g","x":209.05,"y":-1.35},{"c":2,"g":"g","x":216.3,"y":-1.35},
{"c":2,"g":"b","x":209.05,"y":-2.17},{"c":2,"g":"b","x":216.3,"y":-2.17},
{"c":4,"g":"r","x":187.5,"y":-1.80},{"c":4,"g":"r","x":191.2,"y":-1.80},
{"c":4,"g":"g","x":187.5,"y":-2.02},{"c":4,"g":"g","x":191.2,"y":-2.02},
{"c":4,"g":"b","x":187.5,"y":-2.23},{"c":4,"g":"b","x":191.2,"y":-2.23}
]
},
"vconcat": [
{"title": "Chromosome 1", "width": 1260, "height": 253,
 "layer": [
  {"layer": [
   {"data": {"name": "ticks"}, "transform": [{"filter": "datum.c == 1"}], "mark": {"type": "rect"}, "encoding": {"x": {"field": "s", "type": "quantitative", "scale": {"domain": [0, 245.5], "nice": false, "zero": false}, "title": "Position [Mb]"}, "x2": {"field": "e"}, "y": {"datum": 3.58, "type": "quantitative", "scale": {"domain": [-2.73, 3.775], "nice": false, "zero": false}, "title": "Intensity"}, "y2": {"datum": 3.73}, "color": {"field": "k", "type": "nominal", "scale": {"domain": ["Y", "O", "R", "B"], "range": ["#ffff00", "#ff8000", "#ff0000", "#804000"]}, "legend": null}}},
   {"data": {"name": "pts"}, "transform": [{"filter": "datum.c == 1"}], "mark": {"type": "errorbar", "color": "#ffb0b0", "thickness": 1.5, "ticks": {"size": 7, "color": "#ffb0b0"}}, "encoding": {"x": {"field": "x", "type": "quantitative", "scale": {"domain": [0, 245.5], "nice": false, "zero": false}, "title": "Position [Mb]"}, "y": {"field": "r", "type": "quantitative", "scale": {"domain": [-2.73, 3.775], "nice": false, "zero": false}, "title": "Intensity"}, "yError": {"field": "er"}}},
   {"data": {"name": "pts"}, "transform": [{"filter": "datum.c == 1"}], "mark": {"type": "errorbar", "color": "#bcbcff", "thickness": 1.5, "ticks": {"size": 7, "color": "#bcbcff"}}, "encoding": {"x": {"field": "x", "type": "quantitative", "scale": {"domain": [0, 245.5], "nice": false, "zero": false}, "title": "Position [Mb]"}, "y": {"field": "b", "type": "quantitative", "scale": {"domain": [-2.73, 3.775], "nice": false, "zero": false}, "title": "Intensity"}, "yError": {"field": "eb"}}},
   {"data": {"values": [{}]}, "mark": {"type": "rule", "color": "#404040", "strokeDash": [3, 3], "strokeWidth": 1.5}, "encoding": {"y": {"datum": 0, "type": "quantitative", "scale": {"domain": [-2.73, 3.775], "nice": false, "zero": false}, "title": "Intensity"}}},
   {"data": {"name": "pts"}, "transform": [{"filter": "datum.c == 1"}], "mark": {"type": "point", "shape": "diamond", "filled": true, "size": 18, "color": "#ff0000", "opacity": 1}, "encoding": {"x": {"field": "x", "type": "quantitative", "scale": {"domain": [0, 245.5], "nice": false, "zero": false}, "title": "Position [Mb]"}, "y": {"field": "r", "type": "quantitative", "scale": {"domain": [-2.73, 3.775], "nice": false, "zero": false}, "title": "Intensity"}}},
   {"data": {"name": "pts"}, "transform": [{"filter": "datum.c == 1"}], "mark": {"type": "point", "shape": "diamond", "filled": true, "size": 18, "color": "#0000ff", "opacity": 1}, "encoding": {"x": {"field": "x", "type": "quantitative", "scale": {"domain": [0, 245.5], "nice": false, "zero": false}, "title": "Position [Mb]"}, "y": {"field": "b", "type": "quantitative", "scale": {"domain": [-2.73, 3.775], "nice": false, "zero": false}, "title": "Intensity"}}}
  ]},
  {"data": {"values": [{}]}, "mark": {"type": "point", "opacity": 0}, "encoding": {"y": {"datum": 0, "type": "quantitative", "scale": {"domain": [-5.1, 105.1], "nice": false, "zero": false}, "axis": {"orient": "right", "title": "P-value [%]"}}}}
 ],
 "resolve": {"scale": {"y": "independent"}}
},
{"title": "Chromosome 2", "width": 1260, "height": 253,
 "layer": [
  {"layer": [
   {"data": {"name": "ticks"}, "transform": [{"filter": "datum.c == 2"}], "mark": {"type": "rect"}, "encoding": {"x": {"field": "s", "type": "quantitative", "scale": {"domain": [0, 245.5], "nice": false, "zero": false}, "title": "Position [Mb]"}, "x2": {"field": "e"}, "y": {"datum": 3.58, "type": "quantitative", "scale": {"domain": [-2.73, 3.775], "nice": false, "zero": false}, "title": "Intensity"}, "y2": {"datum": 3.73}, "color": {"field": "k", "type": "nominal", "scale": {"domain": ["Y", "O", "R", "B"], "range": ["#ffff00", "#ff8000", "#ff0000", "#804000"]}, "legend": null}}},
   {"data": {"name": "pts"}, "transform": [{"filter": "datum.c == 2"}], "mark": {"type": "errorbar", "color": "#ffb0b0", "thickness": 1.5, "ticks": {"size": 7, "color": "#ffb0b0"}}, "encoding": {"x": {"field": "x", "type": "quantitative", "scale": {"domain": [0, 245.5], "nice": false, "zero": false}, "title": "Position [Mb]"}, "y": {"field": "r", "type": "quantitative", "scale": {"domain": [-2.73, 3.775], "nice": false, "zero": false}, "title": "Intensity"}, "yError": {"field": "er"}}},
   {"data": {"name": "pts"}, "transform": [{"filter": "datum.c == 2"}], "mark": {"type": "errorbar", "color": "#bcbcff", "thickness": 1.5, "ticks": {"size": 7, "color": "#bcbcff"}}, "encoding": {"x": {"field": "x", "type": "quantitative", "scale": {"domain": [0, 245.5], "nice": false, "zero": false}, "title": "Position [Mb]"}, "y": {"field": "b", "type": "quantitative", "scale": {"domain": [-2.73, 3.775], "nice": false, "zero": false}, "title": "Intensity"}, "yError": {"field": "eb"}}},
   {"data": {"values": [{}]}, "mark": {"type": "rule", "color": "#404040", "strokeDash": [3, 3], "strokeWidth": 1.5}, "encoding": {"y": {"datum": 0, "type": "quantitative", "scale": {"domain": [-2.73, 3.775], "nice": false, "zero": false}, "title": "Intensity"}}},
   {"data": {"name": "pts"}, "transform": [{"filter": "datum.c == 2"}], "mark": {"type": "point", "shape": "diamond", "filled": true, "size": 18, "color": "#ff0000", "opacity": 1}, "encoding": {"x": {"field": "x", "type": "quantitative", "scale": {"domain": [0, 245.5], "nice": false, "zero": false}, "title": "Position [Mb]"}, "y": {"field": "r", "type": "quantitative", "scale": {"domain": [-2.73, 3.775], "nice": false, "zero": false}, "title": "Intensity"}}},
   {"data": {"name": "pts"}, "transform": [{"filter": "datum.c == 2"}], "mark": {"type": "point", "shape": "diamond", "filled": true, "size": 18, "color": "#0000ff", "opacity": 1}, "encoding": {"x": {"field": "x", "type": "quantitative", "scale": {"domain": [0, 245.5], "nice": false, "zero": false}, "title": "Position [Mb]"}, "y": {"field": "b", "type": "quantitative", "scale": {"domain": [-2.73, 3.775], "nice": false, "zero": false}, "title": "Intensity"}}},
   {"data": {"name": "segs"}, "transform": [{"filter": "datum.c == 2"}], "mark": {"type": "line", "strokeWidth": 1.5, "point": {"filled": true, "size": 16, "shape": "diamond"}}, "encoding": {"x": {"field": "x", "type": "quantitative", "scale": {"domain": [0, 245.5], "nice": false, "zero": false}, "title": "Position [Mb]"}, "y": {"field": "y", "type": "quantitative", "scale": {"domain": [-2.73, 3.775], "nice": false, "zero": false}, "title": "Intensity"}, "color": {"field": "g", "type": "nominal", "scale": {"domain": ["r", "g", "b"], "range": ["#ff0000", "#008000", "#0000ff"]}, "legend": null}}}
  ], "resolve": {"scale": {"color": "independent"}}},
  {"data": {"values": [{}]}, "mark": {"type": "point", "opacity": 0}, "encoding": {"y": {"datum": 0, "type": "quantitative", "scale": {"domain": [-5.1, 105.1], "nice": false, "zero": false}, "axis": {"orient": "right", "title": "P-value [%]"}}}}
 ],
 "resolve": {"scale": {"y": "independent"}}
},
{"title": "Chromosome 3", "width": 1260, "height": 253,
 "layer": [
  {"layer": [
   {"data": {"name": "ticks"}, "transform": [{"filter": "datum.c == 3"}], "mark": {"type": "rect"}, "encoding": {"x": {"field": "s", "type": "quantitative", "scale": {"domain": [0, 245.5], "nice": false, "zero": false}, "title": "Position [Mb]"}, "x2": {"field": "e"}, "y": {"datum": 3.58, "type": "quantitative", "scale": {"domain": [-2.73, 3.775], "nice": false, "zero": false}, "title": "Intensity"}, "y2": {"datum": 3.73}, "color": {"field": "k", "type": "nominal", "scale": {"domain": ["Y", "O", "R", "B"], "range": ["#ffff00", "#ff8000", "#ff0000", "#804000"]}, "legend": null}}},
   {"data": {"name": "pts"}, "transform": [{"filter": "datum.c == 3"}], "mark": {"type": "errorbar", "color": "#ffb0b0", "thickness": 1.5, "ticks": {"size": 7, "color": "#ffb0b0"}}, "encoding": {"x": {"field": "x", "type": "quantitative", "scale": {"domain": [0, 245.5], "nice": false, "zero": false}, "title": "Position [Mb]"}, "y": {"field": "r", "type": "quantitative", "scale": {"domain": [-2.73, 3.775], "nice": false, "zero": false}, "title": "Intensity"}, "yError": {"field": "er"}}},
   {"data": {"name": "pts"}, "transform": [{"filter": "datum.c == 3"}], "mark": {"type": "errorbar", "color": "#bcbcff", "thickness": 1.5, "ticks": {"size": 7, "color": "#bcbcff"}}, "encoding": {"x": {"field": "x", "type": "quantitative", "scale": {"domain": [0, 245.5], "nice": false, "zero": false}, "title": "Position [Mb]"}, "y": {"field": "b", "type": "quantitative", "scale": {"domain": [-2.73, 3.775], "nice": false, "zero": false}, "title": "Intensity"}, "yError": {"field": "eb"}}},
   {"data": {"values": [{}]}, "mark": {"type": "rule", "color": "#404040", "strokeDash": [3, 3], "strokeWidth": 1.5}, "encoding": {"y": {"datum": 0, "type": "quantitative", "scale": {"domain": [-2.73, 3.775], "nice": false, "zero": false}, "title": "Intensity"}}},
   {"data": {"name": "pts"}, "transform": [{"filter": "datum.c == 3"}], "mark": {"type": "point", "shape": "diamond", "filled": true, "size": 18, "color": "#ff0000", "opacity": 1}, "encoding": {"x": {"field": "x", "type": "quantitative", "scale": {"domain": [0, 245.5], "nice": false, "zero": false}, "title": "Position [Mb]"}, "y": {"field": "r", "type": "quantitative", "scale": {"domain": [-2.73, 3.775], "nice": false, "zero": false}, "title": "Intensity"}}},
   {"data": {"name": "pts"}, "transform": [{"filter": "datum.c == 3"}], "mark": {"type": "point", "shape": "diamond", "filled": true, "size": 18, "color": "#0000ff", "opacity": 1}, "encoding": {"x": {"field": "x", "type": "quantitative", "scale": {"domain": [0, 245.5], "nice": false, "zero": false}, "title": "Position [Mb]"}, "y": {"field": "b", "type": "quantitative", "scale": {"domain": [-2.73, 3.775], "nice": false, "zero": false}, "title": "Intensity"}}}
  ]},
  {"data": {"values": [{}]}, "mark": {"type": "point", "opacity": 0}, "encoding": {"y": {"datum": 0, "type": "quantitative", "scale": {"domain": [-5.1, 105.1], "nice": false, "zero": false}, "axis": {"orient": "right", "title": "P-value [%]"}}}}
 ],
 "resolve": {"scale": {"y": "independent"}}
},
{"title": "Chromosome 4", "width": 1260, "height": 253,
 "layer": [
  {"layer": [
   {"data": {"name": "ticks"}, "transform": [{"filter": "datum.c == 4"}], "mark": {"type": "rect"}, "encoding": {"x": {"field": "s", "type": "quantitative", "scale": {"domain": [0, 245.5], "nice": false, "zero": false}, "title": "Position [Mb]"}, "x2": {"field": "e"}, "y": {"datum": 3.58, "type": "quantitative", "scale": {"domain": [-2.73, 3.775], "nice": false, "zero": false}, "title": "Intensity"}, "y2": {"datum": 3.73}, "color": {"field": "k", "type": "nominal", "scale": {"domain": ["Y", "O", "R", "B"], "range": ["#ffff00", "#ff8000", "#ff0000", "#804000"]}, "legend": null}}},
   {"data": {"name": "pts"}, "transform": [{"filter": "datum.c == 4"}], "mark": {"type": "errorbar", "color": "#ffb0b0", "thickness": 1.5, "ticks": {"size": 7, "color": "#ffb0b0"}}, "encoding": {"x": {"field": "x", "type": "quantitative", "scale": {"domain": [0, 245.5], "nice": false, "zero": false}, "title": "Position [Mb]"}, "y": {"field": "r", "type": "quantitative", "scale": {"domain": [-2.73, 3.775], "nice": false, "zero": false}, "title": "Intensity"}, "yError": {"field": "er"}}},
   {"data": {"name": "pts"}, "transform": [{"filter": "datum.c == 4"}], "mark": {"type": "errorbar", "color": "#bcbcff", "thickness": 1.5, "ticks": {"size": 7, "color": "#bcbcff"}}, "encoding": {"x": {"field": "x", "type": "quantitative", "scale": {"domain": [0, 245.5], "nice": false, "zero": false}, "title": "Position [Mb]"}, "y": {"field": "b", "type": "quantitative", "scale": {"domain": [-2.73, 3.775], "nice": false, "zero": false}, "title": "Intensity"}, "yError": {"field": "eb"}}},
   {"data": {"values": [{}]}, "mark": {"type": "rule", "color": "#404040", "strokeDash": [3, 3], "strokeWidth": 1.5}, "encoding": {"y": {"datum": 0, "type": "quantitative", "scale": {"domain": [-2.73, 3.775], "nice": false, "zero": false}, "title": "Intensity"}}},
   {"data": {"name": "pts"}, "transform": [{"filter": "datum.c == 4"}], "mark": {"type": "point", "shape": "diamond", "filled": true, "size": 18, "color": "#ff0000", "opacity": 1}, "encoding": {"x": {"field": "x", "type": "quantitative", "scale": {"domain": [0, 245.5], "nice": false, "zero": false}, "title": "Position [Mb]"}, "y": {"field": "r", "type": "quantitative", "scale": {"domain": [-2.73, 3.775], "nice": false, "zero": false}, "title": "Intensity"}}},
   {"data": {"name": "pts"}, "transform": [{"filter": "datum.c == 4"}], "mark": {"type": "point", "shape": "diamond", "filled": true, "size": 18, "color": "#0000ff", "opacity": 1}, "encoding": {"x": {"field": "x", "type": "quantitative", "scale": {"domain": [0, 245.5], "nice": false, "zero": false}, "title": "Position [Mb]"}, "y": {"field": "b", "type": "quantitative", "scale": {"domain": [-2.73, 3.775], "nice": false, "zero": false}, "title": "Intensity"}}},
   {"data": {"name": "segs"}, "transform": [{"filter": "datum.c == 4"}], "mark": {"type": "line", "strokeWidth": 1.5, "point": {"filled": true, "size": 16, "shape": "diamond"}}, "encoding": {"x": {"field": "x", "type": "quantitative", "scale": {"domain": [0, 245.5], "nice": false, "zero": false}, "title": "Position [Mb]"}, "y": {"field": "y", "type": "quantitative", "scale": {"domain": [-2.73, 3.775], "nice": false, "zero": false}, "title": "Intensity"}, "color": {"field": "g", "type": "nominal", "scale": {"domain": ["r", "g", "b"], "range": ["#ff0000", "#008000", "#0000ff"]}, "legend": null}}}
  ], "resolve": {"scale": {"color": "independent"}}},
  {"data": {"values": [{}]}, "mark": {"type": "point", "opacity": 0}, "encoding": {"y": {"datum": 0, "type": "quantitative", "scale": {"domain": [-5.1, 105.1], "nice": false, "zero": false}, "axis": {"orient": "right", "title": "P-value [%]"}}}}
 ],
 "resolve": {"scale": {"y": "independent"}}
},
{"title": "Chromosome 5", "width": 1260, "height": 253,
 "layer": [
  {"layer": [
   {"data": {"name": "ticks"}, "transform": [{"filter": "datum.c == 5"}], "mark": {"type": "rect"}, "encoding": {"x": {"field": "s", "type": "quantitative", "scale": {"domain": [0, 245.5], "nice": false, "zero": false}, "title": "Position [Mb]"}, "x2": {"field": "e"}, "y": {"datum": 3.58, "type": "quantitative", "scale": {"domain": [-2.73, 3.775], "nice": false, "zero": false}, "title": "Intensity"}, "y2": {"datum": 3.73}, "color": {"field": "k", "type": "nominal", "scale": {"domain": ["Y", "O", "R", "B"], "range": ["#ffff00", "#ff8000", "#ff0000", "#804000"]}, "legend": null}}},
   {"data": {"name": "pts"}, "transform": [{"filter": "datum.c == 5"}], "mark": {"type": "errorbar", "color": "#ffb0b0", "thickness": 1.5, "ticks": {"size": 7, "color": "#ffb0b0"}}, "encoding": {"x": {"field": "x", "type": "quantitative", "scale": {"domain": [0, 245.5], "nice": false, "zero": false}, "title": "Position [Mb]"}, "y": {"field": "r", "type": "quantitative", "scale": {"domain": [-2.73, 3.775], "nice": false, "zero": false}, "title": "Intensity"}, "yError": {"field": "er"}}},
   {"data": {"name": "pts"}, "transform": [{"filter": "datum.c == 5"}], "mark": {"type": "errorbar", "color": "#bcbcff", "thickness": 1.5, "ticks": {"size": 7, "color": "#bcbcff"}}, "encoding": {"x": {"field": "x", "type": "quantitative", "scale": {"domain": [0, 245.5], "nice": false, "zero": false}, "title": "Position [Mb]"}, "y": {"field": "b", "type": "quantitative", "scale": {"domain": [-2.73, 3.775], "nice": false, "zero": false}, "title": "Intensity"}, "yError": {"field": "eb"}}},
   {"data": {"values": [{}]}, "mark": {"type": "rule", "color": "#404040", "strokeDash": [3, 3], "strokeWidth": 1.5}, "encoding": {"y": {"datum": 0, "type": "quantitative", "scale": {"domain": [-2.73, 3.775], "nice": false, "zero": false}, "title": "Intensity"}}},
   {"data": {"name": "pts"}, "transform": [{"filter": "datum.c == 5"}], "mark": {"type": "point", "shape": "diamond", "filled": true, "size": 18, "color": "#ff0000", "opacity": 1}, "encoding": {"x": {"field": "x", "type": "quantitative", "scale": {"domain": [0, 245.5], "nice": false, "zero": false}, "title": "Position [Mb]"}, "y": {"field": "r", "type": "quantitative", "scale": {"domain": [-2.73, 3.775], "nice": false, "zero": false}, "title": "Intensity"}}},
   {"data": {"name": "pts"}, "transform": [{"filter": "datum.c == 5"}], "mark": {"type": "point", "shape": "diamond", "filled": true, "size": 18, "color": "#0000ff", "opacity": 1}, "encoding": {"x": {"field": "x", "type": "quantitative", "scale": {"domain": [0, 245.5], "nice": false, "zero": false}, "title": "Position [Mb]"}, "y": {"field": "b", "type": "quantitative", "scale": {"domain": [-2.73, 3.775], "nice": false, "zero": false}, "title": "Intensity"}}}
  ]},
  {"data": {"values": [{}]}, "mark": {"type": "point", "opacity": 0}, "encoding": {"y": {"datum": 0, "type": "quantitative", "scale": {"domain": [-5.1, 105.1], "nice": false, "zero": false}, "axis": {"orient": "right", "title": "P-value [%]"}}}}
 ],
 "resolve": {"scale": {"y": "independent"}}
}
],
"config": {
 "font": "Liberation Sans",
 "view": {"stroke": "#000000", "strokeWidth": 1},
 "title": {"fontSize": 11, "fontWeight": "normal", "color": "#0000ff", "offset": 10, "font": "Liberation Sans"},
 "axis": {"labelFont": "Liberation Sans", "titleFont": "Liberation Sans", "labelFontSize": 11, "titleFontSize": 11, "titleFontWeight": "normal", "labelColor": "#000000", "titleColor": "#000000", "domainColor": "#000000", "tickColor": "#000000", "grid": false, "tickSize": 5},
 "axisX": {"tickCount": 25, "labelPadding": 3, "titlePadding": 3, "labelFlush": false},
 "axisLeft": {"format": ".2f", "tickCount": 13, "labelPadding": 2, "titlePadding": 8},
 "axisRight": {"format": ".1f", "tickCount": 11, "labelPadding": 2, "titlePadding": 8}
}
}
